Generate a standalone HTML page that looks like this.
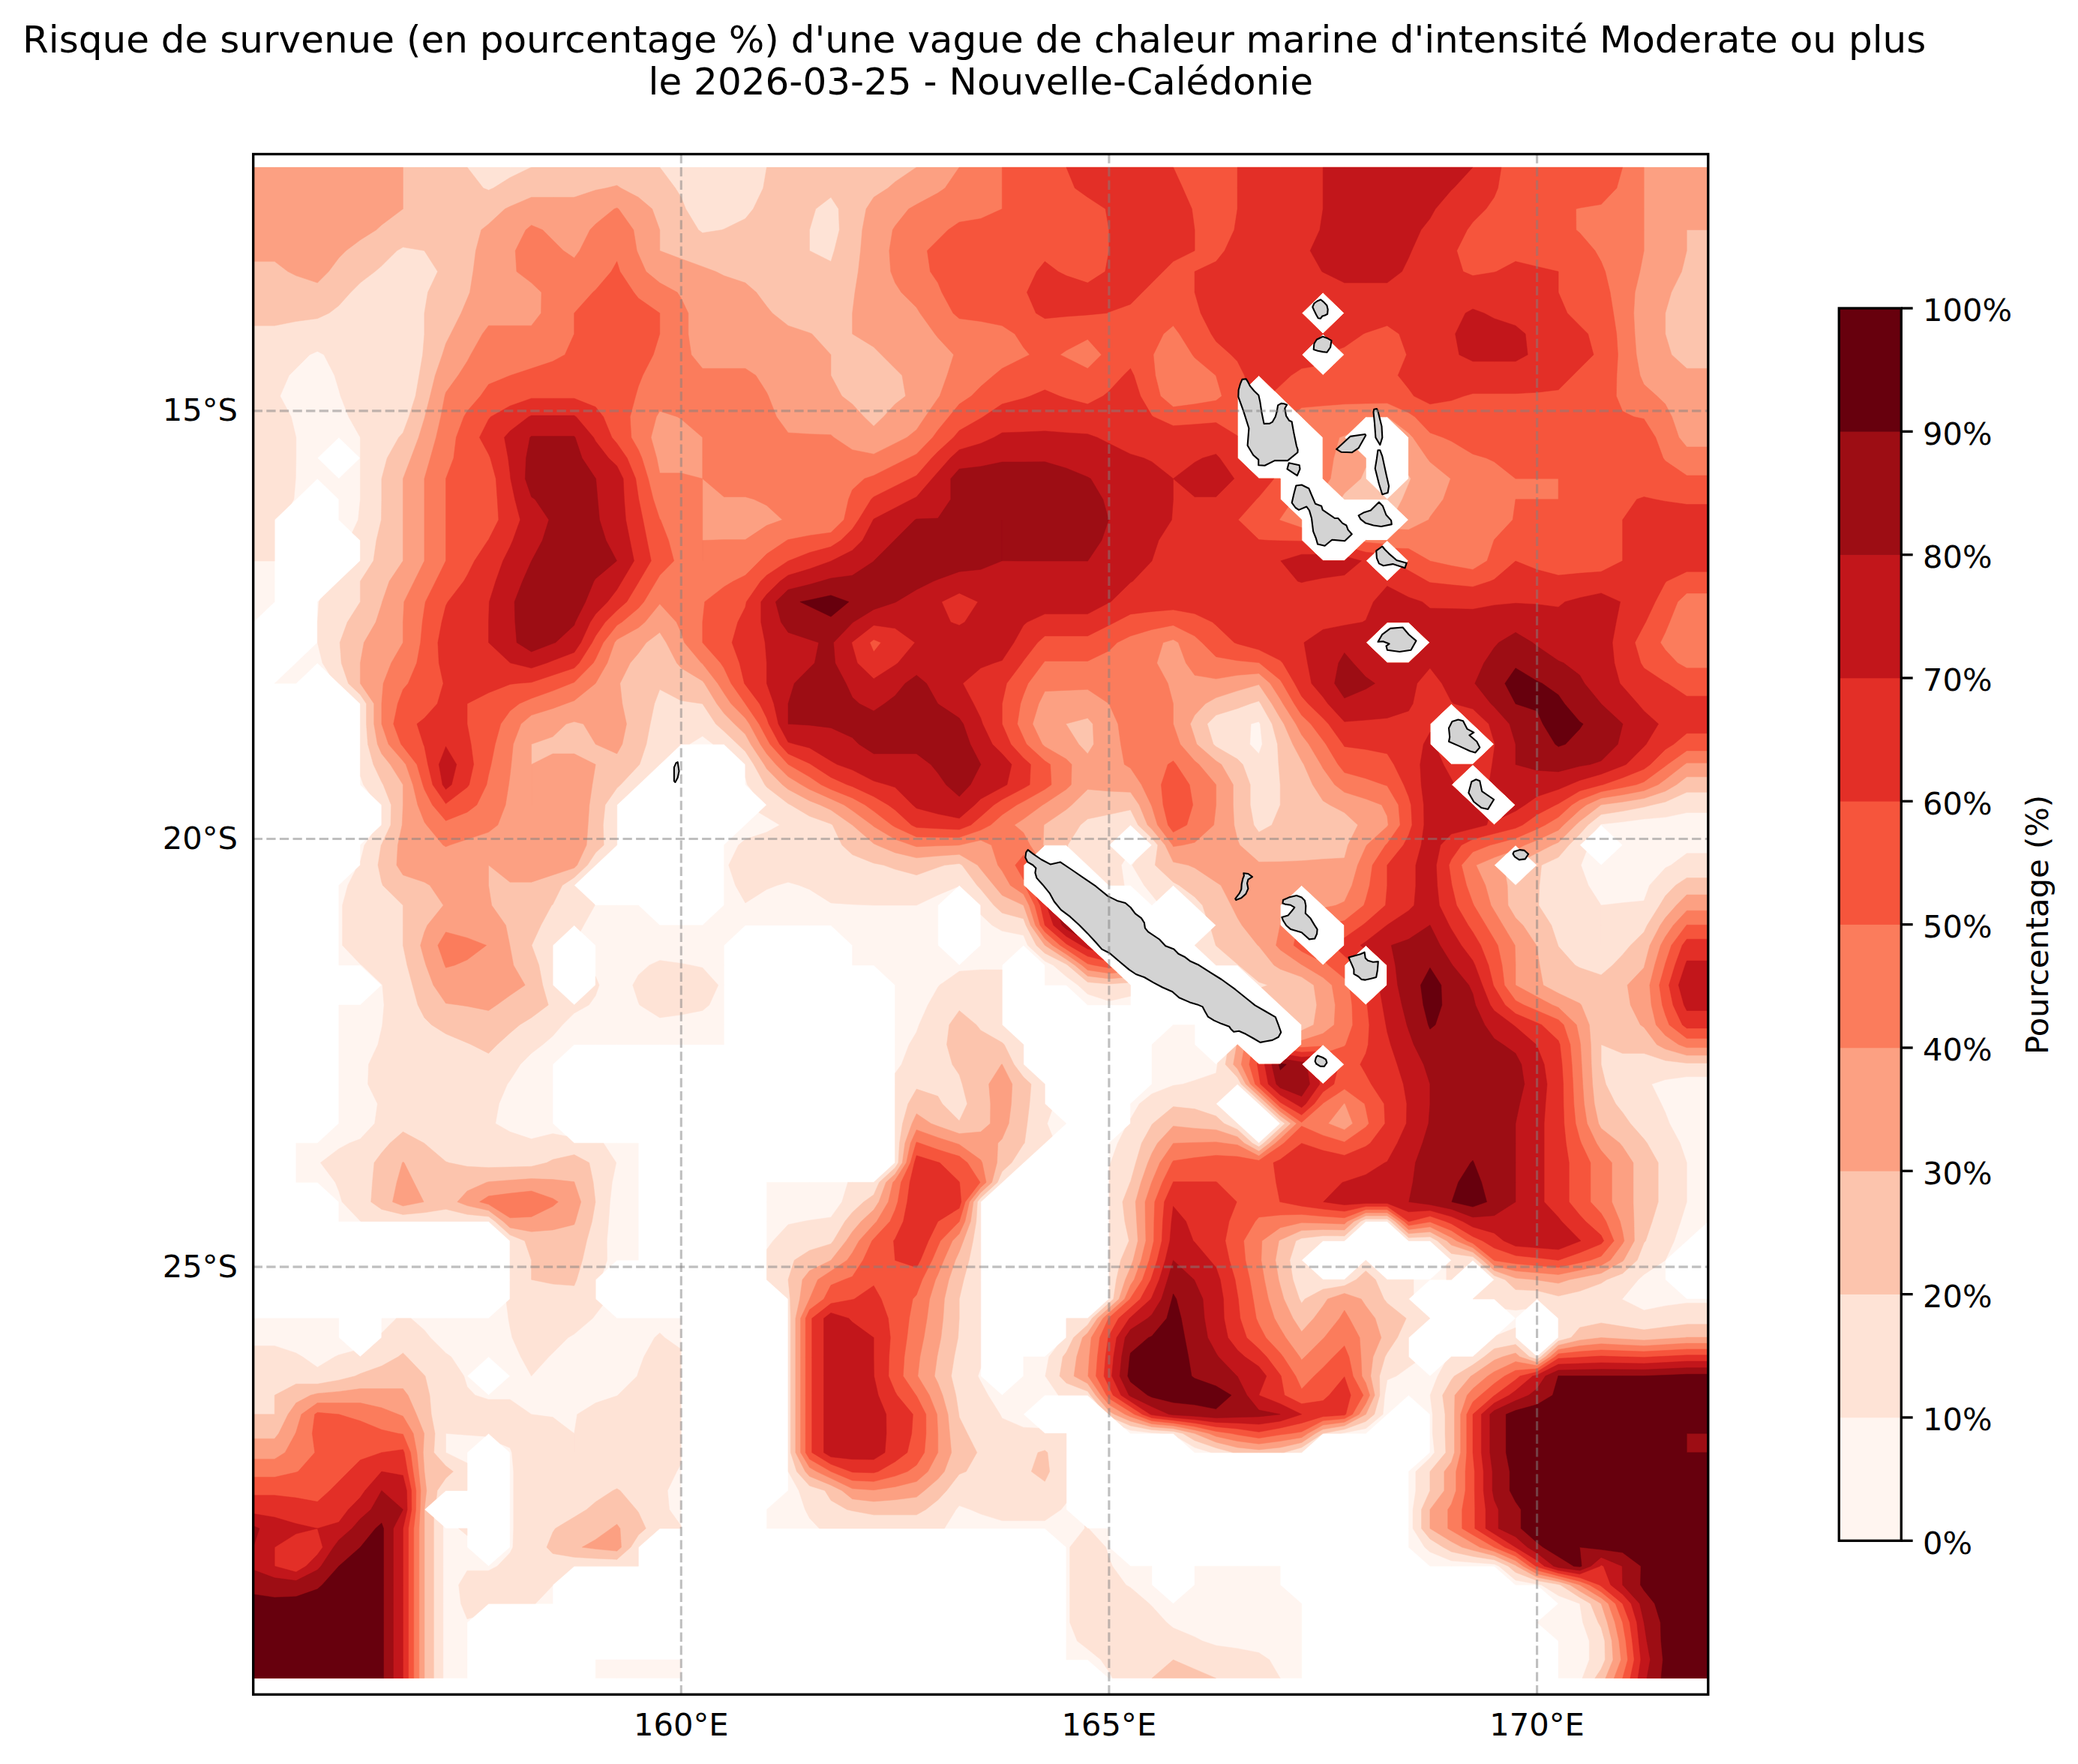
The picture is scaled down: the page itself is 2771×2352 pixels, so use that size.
<!DOCTYPE html>
<html lang="fr"><head><meta charset="utf-8"><title>Risque de vague de chaleur marine - Nouvelle-Calédonie</title>
<style>html,body{margin:0;padding:0;background:#fff}body{width:2771px;height:2352px;overflow:hidden}svg{display:block}text{font-family:"DejaVu Sans","Liberation Sans",sans-serif;fill:#000}</style></head><body>
<svg width="2771" height="2352" viewBox="0 0 2771 2352">
<rect width="2771" height="2352" fill="#fff"/>
<defs><clipPath id="axclip"><rect x="337.7" y="205.5" width="1940.1" height="2053.8"/></clipPath><clipPath id="dataclip"><rect x="337.7" y="222.8" width="1940.1" height="2015.0"/></clipPath></defs>
<g clip-path="url(#axclip)">
<g clip-path="url(#dataclip)">
<path fill="#fff5f0" stroke="#fff5f0" stroke-width="0.5" fill-rule="evenodd" d="M366.2 222.9L394.8 222.9L423.3 222.9L451.8 222.9L480.4 222.9L508.9 222.9L537.4 222.9L565.9 222.9L594.5 222.9L623.0 222.9L651.5 222.9L680.1 222.9L708.6 222.9L737.1 222.9L765.7 222.9L794.2 222.9L822.7 222.9L851.3 222.9L879.8 222.9L908.3 222.9L936.8 222.9L965.4 222.9L993.9 222.9L1022.4 222.9L1051.0 222.9L1079.5 222.9L1108.0 222.9L1136.6 222.9L1165.1 222.9L1193.6 222.9L1222.2 222.9L1250.7 222.9L1279.2 222.9L1307.8 222.9L1336.3 222.9L1364.8 222.9L1393.3 222.9L1421.9 222.9L1450.4 222.9L1478.9 222.9L1507.5 222.9L1536.0 222.9L1564.5 222.9L1593.1 222.9L1621.6 222.9L1650.1 222.9L1678.7 222.9L1707.2 222.9L1735.7 222.9L1764.2 222.9L1792.8 222.9L1821.3 222.9L1849.8 222.9L1878.4 222.9L1906.9 222.9L1935.4 222.9L1964.0 222.9L1992.5 222.9L2021.0 222.9L2049.6 222.9L2078.1 222.9L2106.6 222.9L2135.1 222.9L2163.7 222.9L2192.2 222.9L2220.7 222.9L2249.3 222.9L2277.8 222.9L2277.8 250.8L2277.8 278.6L2277.8 306.5L2277.8 334.3L2277.8 362.1L2277.8 389.8L2277.8 417.5L2277.8 445.2L2277.8 472.9L2277.8 500.5L2277.8 528.1L2277.8 555.7L2277.8 583.2L2277.8 610.8L2277.8 638.2L2277.8 665.7L2277.8 693.1L2277.8 720.5L2277.8 747.8L2277.8 775.1L2277.8 802.4L2277.8 829.6L2277.8 856.8L2277.8 884.0L2277.8 911.2L2277.8 938.2L2277.8 965.3L2277.8 992.3L2277.8 1019.3L2277.8 1046.3L2277.8 1073.2L2277.8 1100.0L2277.8 1126.8L2277.8 1153.6L2277.8 1180.4L2277.8 1207.1L2277.8 1233.7L2277.8 1260.4L2277.8 1286.9L2277.8 1313.5L2277.8 1340.0L2277.8 1366.4L2277.8 1392.8L2277.8 1419.2L2277.8 1445.5L2277.8 1471.8L2277.8 1498.0L2277.8 1524.2L2277.8 1550.3L2277.8 1576.4L2277.8 1602.5L2277.8 1628.5L2249.3 1654.4L2220.7 1680.3L2220.7 1706.2L2249.3 1732.0L2277.8 1732.0L2277.8 1757.8L2277.8 1783.5L2277.8 1809.1L2277.8 1834.8L2277.8 1860.3L2277.8 1885.8L2277.8 1911.3L2277.8 1936.7L2277.8 1962.1L2277.8 1987.4L2277.8 2012.7L2277.8 2037.9L2277.8 2063.0L2277.8 2088.2L2277.8 2113.2L2277.8 2138.2L2277.8 2163.2L2277.8 2188.1L2277.8 2212.9L2277.8 2237.7L2249.3 2237.7L2220.7 2237.7L2192.2 2237.7L2163.7 2237.7L2135.1 2237.7L2106.6 2237.7L2078.1 2237.7L2078.1 2212.9L2078.1 2188.1L2049.6 2163.2L2078.1 2138.2L2049.6 2113.2L2021.0 2113.2L1992.5 2088.2L1964.0 2088.2L1935.4 2088.2L1906.9 2088.2L1878.4 2063.0L1878.4 2037.9L1878.4 2012.7L1878.4 1987.4L1878.4 1962.1L1906.9 1936.7L1906.9 1911.3L1906.9 1885.8L1878.4 1860.3L1849.8 1885.8L1821.3 1911.3L1792.8 1911.3L1764.2 1911.3L1735.7 1936.7L1707.2 1936.7L1678.7 1936.7L1650.1 1936.7L1621.6 1936.7L1593.1 1936.7L1564.5 1911.3L1536.0 1911.3L1507.5 1911.3L1478.9 1885.8L1450.4 1860.3L1421.9 1860.3L1393.3 1860.3L1364.8 1885.8L1393.3 1911.3L1421.9 1911.3L1421.9 1936.7L1421.9 1962.1L1421.9 1987.4L1421.9 2012.7L1450.4 2037.9L1478.9 2037.9L1478.9 2063.0L1507.5 2088.2L1536.0 2088.2L1536.0 2113.2L1564.5 2138.2L1593.1 2113.2L1593.1 2088.2L1621.6 2088.2L1650.1 2088.2L1678.7 2088.2L1707.2 2088.2L1707.2 2113.2L1735.7 2138.2L1735.7 2163.2L1735.7 2188.1L1735.7 2212.9L1735.7 2237.7L1707.2 2237.7L1678.7 2237.7L1650.1 2237.7L1621.6 2237.7L1593.1 2237.7L1564.5 2237.7L1536.0 2237.7L1507.5 2237.7L1478.9 2237.7L1450.4 2212.9L1421.9 2212.9L1421.9 2188.1L1421.9 2163.2L1421.9 2138.2L1421.9 2113.2L1421.9 2088.2L1421.9 2063.0L1393.3 2037.9L1364.8 2037.9L1336.3 2037.9L1307.8 2037.9L1279.2 2037.9L1250.7 2037.9L1222.2 2037.9L1193.6 2037.9L1165.1 2037.9L1136.6 2037.9L1108.0 2037.9L1079.5 2037.9L1051.0 2037.9L1022.4 2037.9L1022.4 2012.7L1051.0 1987.4L1051.0 1962.1L1051.0 1936.7L1051.0 1911.3L1051.0 1885.8L1051.0 1860.3L1051.0 1834.8L1051.0 1809.1L1051.0 1783.5L1051.0 1757.8L1051.0 1732.0L1022.4 1706.2L1022.4 1680.3L1022.4 1654.4L1022.4 1628.5L1022.4 1602.5L1022.4 1576.4L1051.0 1576.4L1079.5 1576.4L1108.0 1576.4L1136.6 1576.4L1165.1 1576.4L1193.6 1550.3L1193.6 1524.2L1193.6 1498.0L1193.6 1471.8L1193.6 1445.5L1193.6 1419.2L1193.6 1392.8L1193.6 1366.4L1193.6 1340.0L1193.6 1313.5L1165.1 1286.9L1136.6 1286.9L1136.6 1260.4L1108.0 1233.7L1079.5 1233.7L1051.0 1233.7L1022.4 1233.7L993.9 1233.7L965.4 1260.4L965.4 1286.9L965.4 1313.5L965.4 1340.0L965.4 1366.4L965.4 1392.8L936.8 1392.8L908.3 1392.8L879.8 1392.8L851.3 1392.8L822.7 1392.8L794.2 1392.8L765.7 1392.8L737.1 1419.2L737.1 1445.5L737.1 1471.8L737.1 1498.0L765.7 1524.2L794.2 1524.2L822.7 1524.2L851.3 1524.2L851.3 1550.3L851.3 1576.4L851.3 1602.5L851.3 1628.5L851.3 1654.4L851.3 1680.3L822.7 1680.3L794.2 1706.2L794.2 1732.0L822.7 1757.8L851.3 1757.8L879.8 1757.8L908.3 1757.8L908.3 1783.5L908.3 1809.1L908.3 1834.8L908.3 1860.3L908.3 1885.8L908.3 1911.3L908.3 1936.7L908.3 1962.1L908.3 1987.4L908.3 2012.7L908.3 2037.9L879.8 2037.9L851.3 2063.0L851.3 2088.2L822.7 2088.2L794.2 2088.2L765.7 2088.2L737.1 2113.2L737.1 2138.2L708.6 2138.2L680.1 2138.2L651.5 2138.2L623.0 2163.2L623.0 2188.1L623.0 2212.9L623.0 2237.7L594.5 2237.7L565.9 2237.7L537.4 2237.7L508.9 2237.7L480.4 2237.7L451.8 2237.7L423.3 2237.7L394.8 2237.7L366.2 2237.7L337.7 2237.7L337.7 2212.9L337.7 2188.1L337.7 2163.2L337.7 2138.2L337.7 2113.2L337.7 2088.2L337.7 2063.0L337.7 2037.9L337.7 2012.7L337.7 1987.4L337.7 1962.1L337.7 1936.7L337.7 1911.3L337.7 1885.8L337.7 1860.3L337.7 1834.8L337.7 1809.1L337.7 1783.5L337.7 1757.8L366.2 1757.8L394.8 1757.8L423.3 1757.8L451.8 1757.8L451.8 1783.5L480.4 1809.1L508.9 1783.5L508.9 1757.8L537.4 1757.8L565.9 1757.8L594.5 1757.8L623.0 1757.8L651.5 1757.8L680.1 1732.0L680.1 1706.2L680.1 1680.3L680.1 1654.4L651.5 1628.5L623.0 1628.5L594.5 1628.5L565.9 1628.5L537.4 1628.5L508.9 1628.5L480.4 1628.5L451.8 1628.5L451.8 1602.5L423.3 1576.4L394.8 1576.4L394.8 1550.3L394.8 1524.2L423.3 1524.2L451.8 1498.0L451.8 1471.8L451.8 1445.5L451.8 1419.2L451.8 1392.8L451.8 1366.4L451.8 1340.0L480.4 1340.0L508.9 1313.5L480.4 1286.9L451.8 1286.9L451.8 1260.4L451.8 1233.7L451.8 1207.1L451.8 1180.4L480.4 1153.6L480.4 1126.8L508.9 1100.0L508.9 1073.2L480.4 1046.3L480.4 1019.3L480.4 992.3L480.4 965.3L480.4 938.2L451.8 911.2L423.3 884.0L394.8 911.2L366.2 911.2L394.8 884.0L423.3 856.8L423.3 829.6L423.3 802.4L451.8 775.1L480.4 747.8L480.4 720.5L451.8 693.1L451.8 665.7L423.3 638.2L394.8 665.7L366.2 693.1L366.2 720.5L366.2 747.8L366.2 775.1L366.2 802.4L337.7 829.6L337.7 802.4L337.7 775.1L337.7 747.8L337.7 720.5L337.7 693.1L337.7 665.7L337.7 638.2L337.7 610.8L337.7 583.2L337.7 555.7L337.7 528.1L337.7 500.5L337.7 472.9L337.7 445.2L337.7 417.5L337.7 389.8L337.7 362.1L337.7 334.3L337.7 306.5L337.7 278.6L337.7 250.8L337.7 222.9ZM1735.7 417.5L1764.2 445.2L1735.7 472.9L1764.2 500.5L1792.8 472.9L1764.2 445.2L1792.8 417.5L1764.2 389.8ZM1650.1 528.1L1650.1 555.7L1650.1 583.2L1650.1 610.8L1678.7 638.2L1707.2 638.2L1707.2 665.7L1735.7 693.1L1735.7 720.5L1764.2 747.8L1792.8 747.8L1821.3 720.5L1849.8 720.5L1821.3 747.8L1849.8 775.1L1878.4 747.8L1849.8 720.5L1878.4 693.1L1849.8 665.7L1878.4 638.2L1878.4 610.8L1878.4 583.2L1849.8 555.7L1821.3 555.7L1792.8 583.2L1821.3 610.8L1821.3 638.2L1849.8 665.7L1821.3 665.7L1792.8 665.7L1764.2 638.2L1764.2 610.8L1764.2 583.2L1735.7 555.7L1707.2 528.1L1678.7 500.5ZM423.3 610.8L451.8 638.2L480.4 610.8L451.8 583.2ZM1849.8 829.6L1821.3 856.8L1849.8 884.0L1878.4 884.0L1906.9 856.8L1878.4 829.6ZM1906.9 965.3L1906.9 992.3L1935.4 1019.3L1964.0 1019.3L1935.4 1046.3L1964.0 1073.2L1992.5 1100.0L2021.0 1073.2L1992.5 1046.3L1964.0 1019.3L1992.5 992.3L1964.0 965.3L1935.4 938.2ZM908.3 992.3L879.8 1019.3L851.3 1046.3L822.7 1073.2L822.7 1100.0L822.7 1126.8L794.2 1153.6L765.7 1180.4L794.2 1207.1L822.7 1207.1L851.3 1207.1L879.8 1233.7L908.3 1233.7L936.8 1233.7L965.4 1207.1L965.4 1180.4L965.4 1153.6L965.4 1126.8L993.9 1100.0L1022.4 1073.2L993.9 1046.3L993.9 1019.3L965.4 992.3L936.8 992.3ZM1393.3 1126.8L1364.8 1153.6L1364.8 1180.4L1393.3 1207.1L1421.9 1233.7L1450.4 1260.4L1478.9 1286.9L1507.5 1313.5L1507.5 1340.0L1478.9 1340.0L1450.4 1340.0L1421.9 1313.5L1393.3 1313.5L1393.3 1286.9L1364.8 1260.4L1336.3 1286.9L1336.3 1313.5L1336.3 1340.0L1336.3 1366.4L1364.8 1392.8L1364.8 1419.2L1393.3 1445.5L1393.3 1471.8L1421.9 1498.0L1393.3 1524.2L1364.8 1550.3L1336.3 1576.4L1307.8 1602.5L1307.8 1628.5L1307.8 1654.4L1307.8 1680.3L1307.8 1706.2L1307.8 1732.0L1307.8 1757.8L1307.8 1783.5L1307.8 1809.1L1307.8 1834.8L1336.3 1860.3L1364.8 1834.8L1364.8 1809.1L1393.3 1809.1L1421.9 1783.5L1421.9 1757.8L1450.4 1757.8L1478.9 1732.0L1478.9 1706.2L1478.9 1680.3L1478.9 1654.4L1478.9 1628.5L1478.9 1602.5L1478.9 1576.4L1478.9 1550.3L1478.9 1524.2L1507.5 1498.0L1507.5 1471.8L1536.0 1445.5L1536.0 1419.2L1536.0 1392.8L1564.5 1366.4L1593.1 1366.4L1593.1 1392.8L1621.6 1419.2L1650.1 1392.8L1678.7 1419.2L1707.2 1419.2L1735.7 1392.8L1735.7 1366.4L1707.2 1340.0L1678.7 1313.5L1650.1 1286.9L1621.6 1286.9L1593.1 1260.4L1621.6 1233.7L1593.1 1207.1L1564.5 1180.4L1536.0 1207.1L1507.5 1180.4L1478.9 1180.4L1450.4 1153.6L1421.9 1126.8ZM1478.9 1126.8L1507.5 1153.6L1536.0 1126.8L1507.5 1100.0ZM2106.6 1126.8L2135.1 1153.6L2163.7 1126.8L2135.1 1100.0ZM1992.5 1153.6L2021.0 1180.4L2049.6 1153.6L2021.0 1126.8ZM1250.7 1207.1L1250.7 1233.7L1250.7 1260.4L1279.2 1286.9L1307.8 1260.4L1307.8 1233.7L1307.8 1207.1L1279.2 1180.4ZM1707.2 1207.1L1707.2 1233.7L1735.7 1260.4L1764.2 1286.9L1792.8 1260.4L1792.8 1233.7L1764.2 1207.1L1735.7 1180.4ZM737.1 1260.4L737.1 1286.9L737.1 1313.5L765.7 1340.0L794.2 1313.5L794.2 1286.9L794.2 1260.4L765.7 1233.7ZM1792.8 1286.9L1792.8 1313.5L1821.3 1340.0L1849.8 1313.5L1849.8 1286.9L1821.3 1260.4ZM1735.7 1419.2L1764.2 1445.5L1792.8 1419.2L1764.2 1392.8ZM1621.6 1471.8L1650.1 1498.0L1678.7 1524.2L1707.2 1498.0L1678.7 1471.8L1650.1 1445.5ZM1821.3 1628.5L1792.8 1654.4L1764.2 1654.4L1735.7 1680.3L1764.2 1706.2L1792.8 1706.2L1821.3 1680.3L1849.8 1706.2L1878.4 1706.2L1906.9 1706.2L1878.4 1732.0L1906.9 1757.8L1878.4 1783.5L1878.4 1809.1L1906.9 1834.8L1935.4 1809.1L1964.0 1809.1L1992.5 1783.5L2021.0 1757.8L2021.0 1783.5L2049.6 1809.1L2078.1 1783.5L2078.1 1757.8L2049.6 1732.0L2021.0 1757.8L1992.5 1732.0L1964.0 1732.0L1992.5 1706.2L1964.0 1680.3L1935.4 1706.2L1906.9 1706.2L1935.4 1680.3L1906.9 1654.4L1878.4 1654.4L1849.8 1628.5ZM623.0 1834.8L651.5 1860.3L680.1 1834.8L651.5 1809.1ZM623.0 1936.7L623.0 1962.1L623.0 1987.4L594.5 1987.4L565.9 2012.7L594.5 2037.9L623.0 2037.9L623.0 2063.0L651.5 2088.2L680.1 2063.0L680.1 2037.9L680.1 2012.7L680.1 1987.4L680.1 1962.1L680.1 1936.7L651.5 1911.3ZM822.7 2212.9L851.3 2212.9L879.8 2212.9L908.3 2212.9L908.3 2237.7L879.8 2237.7L851.3 2237.7L822.7 2237.7L794.2 2237.7L794.2 2212.9Z"/>
<path fill="#fee3d6" stroke="#fee3d6" stroke-width="0.5" fill-rule="evenodd" d="M366.2 222.9L394.8 222.9L423.3 222.9L451.8 222.9L480.4 222.9L508.9 222.9L537.4 222.9L565.9 222.9L594.5 222.9L623.0 222.9L651.5 222.9L680.1 222.9L708.6 222.9L737.1 222.9L765.7 222.9L794.2 222.9L822.7 222.9L851.3 222.9L879.8 222.9L908.3 222.9L936.8 222.9L965.4 222.9L993.9 222.9L1022.4 222.9L1051.0 222.9L1079.5 222.9L1108.0 222.9L1136.6 222.9L1165.1 222.9L1193.6 222.9L1222.2 222.9L1250.7 222.9L1279.2 222.9L1307.8 222.9L1336.3 222.9L1364.8 222.9L1393.3 222.9L1421.9 222.9L1450.4 222.9L1478.9 222.9L1507.5 222.9L1536.0 222.9L1564.5 222.9L1593.1 222.9L1621.6 222.9L1650.1 222.9L1678.7 222.9L1707.2 222.9L1735.7 222.9L1764.2 222.9L1792.8 222.9L1821.3 222.9L1849.8 222.9L1878.4 222.9L1906.9 222.9L1935.4 222.9L1964.0 222.9L1992.5 222.9L2021.0 222.9L2049.6 222.9L2078.1 222.9L2106.6 222.9L2135.1 222.9L2163.7 222.9L2192.2 222.9L2220.7 222.9L2249.3 222.9L2277.8 222.9L2277.8 250.8L2277.8 278.6L2277.8 306.5L2277.8 334.3L2277.8 362.1L2277.8 389.8L2277.8 417.5L2277.8 445.2L2277.8 472.9L2277.8 500.5L2277.8 528.1L2277.8 555.7L2277.8 583.2L2277.8 610.8L2277.8 638.2L2277.8 665.7L2277.8 693.1L2277.8 720.5L2277.8 747.8L2277.8 775.1L2277.8 802.4L2277.8 829.6L2277.8 856.8L2277.8 884.0L2277.8 911.2L2277.8 938.2L2277.8 965.3L2277.8 992.3L2277.8 1019.3L2277.8 1046.3L2277.8 1073.2L2277.8 1083.5L2249.3 1083.5L2220.7 1089.6L2192.2 1092.0L2163.7 1095.8L2135.1 1098.9L2133.8 1100.0L2126.8 1107.9L2106.6 1126.8L2115.4 1135.1L2108.2 1153.6L2118.1 1180.4L2135.1 1207.1L2135.1 1233.7L2135.1 1260.4L2135.1 1260.4L2135.1 1260.4L2135.1 1233.7L2135.1 1207.1L2163.7 1203.7L2192.2 1201.1L2199.6 1180.4L2220.7 1157.2L2228.2 1153.6L2249.3 1137.8L2277.8 1137.8L2277.8 1153.6L2277.8 1180.4L2277.8 1207.1L2277.8 1233.7L2277.8 1260.4L2277.8 1286.9L2277.8 1313.5L2277.8 1340.0L2277.8 1366.4L2277.8 1392.8L2277.8 1419.2L2277.8 1435.6L2249.3 1435.6L2220.7 1439.5L2202.4 1445.5L2215.3 1471.8L2220.7 1483.2L2226.3 1498.0L2240.4 1524.2L2249.3 1550.3L2249.3 1576.4L2249.3 1602.5L2241.2 1628.5L2232.6 1654.4L2220.8 1680.3L2220.7 1680.3L2220.7 1680.4L2192.2 1699.4L2184.7 1706.2L2163.7 1731.4L2162.3 1732.0L2163.7 1732.7L2192.2 1747.0L2220.7 1741.2L2249.3 1737.4L2277.8 1737.4L2277.8 1757.8L2277.8 1783.5L2277.8 1809.1L2277.8 1834.8L2277.8 1860.3L2277.8 1885.8L2277.8 1911.3L2277.8 1936.7L2277.8 1962.1L2277.8 1987.4L2277.8 2012.7L2277.8 2037.9L2277.8 2063.0L2277.8 2088.2L2277.8 2113.2L2277.8 2138.2L2277.8 2163.2L2277.8 2188.1L2277.8 2212.9L2277.8 2237.7L2249.3 2237.7L2220.7 2237.7L2192.2 2237.7L2163.7 2237.7L2135.1 2237.7L2110.0 2237.7L2119.3 2212.9L2119.3 2188.1L2110.7 2163.2L2106.6 2138.2L2106.6 2138.2L2078.1 2127.5L2055.3 2113.2L2049.6 2112.3L2021.0 2106.9L1998.7 2088.2L1992.5 2085.4L1964.0 2083.3L1935.4 2081.0L1906.9 2069.3L1899.8 2063.0L1884.1 2037.9L1884.1 2012.7L1887.9 1987.4L1887.9 1962.1L1906.9 1944.0L1912.9 1936.7L1910.3 1911.3L1910.3 1885.8L1907.1 1860.3L1917.1 1834.8L1926.8 1816.9L1935.4 1809.1L1964.0 1809.1L1992.5 1783.5L1995.8 1780.5L2021.0 1770.3L2021.0 1783.5L2049.6 1809.1L2078.1 1783.5L2078.1 1757.8L2049.6 1732.0L2034.9 1745.2L2021.0 1747.0L2007.1 1745.2L1992.5 1732.0L1964.0 1732.0L1992.5 1706.2L1964.0 1680.3L1935.4 1706.2L1928.8 1706.2L1928.8 1686.4L1935.4 1680.3L1906.9 1654.4L1878.4 1654.4L1849.8 1628.5L1821.3 1628.5L1792.8 1654.4L1764.2 1654.4L1735.7 1680.3L1764.2 1706.2L1792.8 1706.2L1821.3 1680.3L1849.8 1706.2L1878.4 1706.2L1885.0 1706.2L1885.0 1726.0L1878.4 1732.0L1906.9 1757.8L1878.4 1783.5L1878.4 1809.1L1887.0 1816.9L1878.4 1823.1L1862.1 1834.8L1849.8 1839.9L1846.5 1860.3L1844.1 1885.8L1821.3 1904.7L1792.8 1910.4L1788.0 1911.3L1764.2 1911.3L1735.7 1936.7L1735.7 1936.7L1735.7 1936.7L1707.2 1936.7L1678.7 1936.7L1650.1 1936.7L1621.6 1936.7L1615.2 1936.7L1593.1 1930.1L1570.9 1917.0L1564.5 1911.3L1550.3 1911.3L1536.0 1910.5L1507.5 1907.1L1498.4 1903.2L1478.9 1885.8L1450.4 1860.3L1421.9 1860.3L1411.3 1860.3L1393.9 1834.8L1398.7 1809.1L1410.2 1794.0L1421.9 1783.5L1421.9 1757.8L1450.4 1757.8L1478.9 1732.0L1478.9 1706.2L1478.9 1680.3L1478.9 1654.4L1478.9 1628.5L1478.9 1602.5L1478.9 1576.4L1478.9 1555.1L1481.1 1550.3L1490.4 1524.2L1500.1 1504.7L1507.5 1498.0L1507.5 1491.8L1519.3 1471.8L1536.0 1458.4L1564.5 1447.3L1577.2 1445.5L1593.1 1440.5L1621.6 1430.7L1623.4 1419.2L1623.7 1417.2L1650.1 1392.8L1678.7 1419.2L1707.2 1419.2L1735.7 1392.8L1735.7 1366.4L1707.2 1340.0L1678.7 1313.5L1650.1 1286.9L1621.6 1286.9L1593.1 1260.4L1621.6 1233.7L1593.1 1207.1L1564.5 1180.4L1542.3 1201.2L1536.0 1193.3L1525.7 1180.4L1509.7 1153.6L1515.1 1146.4L1536.0 1126.8L1507.5 1100.0L1478.9 1126.8L1499.8 1146.4L1495.3 1153.6L1499.2 1180.4L1478.9 1180.4L1450.4 1153.6L1421.9 1126.8L1393.3 1126.8L1364.8 1153.6L1364.8 1180.4L1393.3 1207.1L1421.9 1233.7L1450.4 1260.4L1478.9 1286.9L1507.5 1313.5L1507.5 1328.2L1478.9 1334.7L1450.4 1325.5L1437.4 1313.5L1421.9 1302.1L1404.3 1286.9L1393.3 1281.6L1370.5 1260.4L1364.8 1247.1L1336.3 1241.3L1323.0 1233.7L1307.8 1219.4L1307.8 1207.1L1279.2 1180.4L1277.3 1182.2L1250.7 1193.4L1222.2 1207.1L1193.6 1207.1L1165.1 1207.1L1136.6 1205.9L1108.0 1203.9L1079.5 1185.9L1065.6 1180.4L1051.0 1176.2L1036.4 1180.4L1022.4 1185.9L993.9 1203.9L980.6 1180.4L971.7 1153.6L984.7 1126.8L993.9 1119.1L1022.4 1109.6L1039.7 1100.0L1022.4 1089.6L1011.8 1083.2L1022.4 1073.2L1004.1 1055.9L996.5 1046.3L993.9 1036.6L993.9 1019.3L965.4 992.3L950.9 992.3L936.8 981.5L919.4 992.3L908.3 992.3L879.8 1019.3L851.3 1046.3L822.7 1073.2L822.7 1100.0L822.7 1126.8L794.2 1153.6L765.7 1180.4L792.3 1205.3L793.3 1207.1L778.4 1233.7L774.1 1241.7L765.7 1233.7L737.1 1260.4L737.1 1286.9L737.1 1313.5L765.7 1340.0L794.2 1313.5L794.2 1301.8L799.1 1313.5L794.2 1327.6L785.3 1340.0L765.7 1350.9L750.0 1366.4L737.1 1381.4L723.9 1392.8L708.6 1404.5L693.9 1419.2L680.1 1440.7L676.6 1445.5L665.4 1471.8L660.7 1498.0L680.1 1509.1L708.6 1518.6L737.1 1511.5L755.8 1515.1L765.7 1524.2L794.2 1524.2L804.8 1524.2L821.7 1550.3L816.3 1576.4L813.4 1602.5L811.6 1628.5L809.3 1654.4L809.6 1680.3L803.7 1697.6L794.2 1706.2L794.2 1732.0L803.6 1740.5L794.2 1752.8L790.4 1757.8L765.7 1778.8L757.7 1783.5L737.1 1804.0L732.0 1809.1L708.6 1834.8L694.4 1809.1L683.0 1783.5L680.1 1770.3L677.9 1757.8L675.2 1736.4L680.1 1732.0L680.1 1706.2L680.1 1680.3L680.1 1654.4L651.5 1628.5L623.0 1628.5L594.5 1628.5L565.9 1628.5L537.4 1628.5L508.9 1628.5L481.6 1628.5L480.4 1628.0L456.1 1602.5L451.8 1588.0L447.1 1576.4L427.4 1550.3L451.8 1531.7L465.7 1524.2L480.4 1518.6L499.6 1498.0L503.4 1471.8L490.6 1445.5L491.5 1419.2L503.9 1392.8L508.9 1371.3L509.8 1366.4L512.1 1340.0L509.9 1313.5L508.9 1312.2L482.4 1286.9L480.4 1285.5L456.6 1260.4L456.6 1233.7L456.6 1207.1L463.8 1180.4L474.6 1159.0L480.4 1153.6L480.4 1149.1L486.0 1126.8L496.3 1111.8L508.9 1100.0L508.9 1073.2L492.9 1058.1L484.5 1046.3L480.4 1034.4L480.4 1019.3L480.4 992.3L480.4 965.3L480.4 938.2L451.8 911.2L439.6 899.5L430.0 884.0L423.3 856.8L423.3 829.6L425.2 802.4L427.5 798.4L451.8 775.1L480.4 747.8L480.4 720.5L469.6 710.2L477.6 693.1L480.4 665.7L480.4 665.7L480.4 638.2L480.4 610.8L480.4 583.2L480.4 583.2L464.9 555.7L454.1 528.1L451.8 519.8L446.0 500.5L431.9 472.9L423.3 468.4L413.1 472.9L394.8 491.3L385.5 500.5L373.5 528.1L388.3 555.7L394.8 583.2L394.8 610.8L394.3 638.2L391.9 665.7L388.6 671.6L366.2 693.1L366.2 720.5L366.2 747.8L366.2 748.1L337.7 748.1L337.7 747.8L337.7 720.5L337.7 693.1L337.7 665.7L337.7 638.2L337.7 610.8L337.7 583.2L337.7 555.7L337.7 528.1L337.7 500.5L337.7 472.9L337.7 445.2L337.7 417.5L337.7 389.8L337.7 362.1L337.7 334.3L337.7 306.5L337.7 278.6L337.7 250.8L337.7 222.9ZM1735.7 417.5L1764.2 445.2L1735.7 472.9L1764.2 500.5L1792.8 472.9L1764.2 445.2L1792.8 417.5L1764.2 389.8ZM537.4 472.9L537.4 500.5L537.4 500.5L537.4 500.5L537.4 472.9L537.4 472.9ZM1650.1 528.1L1650.1 555.7L1650.1 583.2L1650.1 610.8L1678.7 638.2L1707.2 638.2L1707.2 665.7L1735.7 693.1L1735.7 720.5L1764.2 747.8L1792.8 747.8L1821.3 720.5L1849.8 720.5L1821.3 747.8L1849.8 775.1L1878.4 747.8L1849.8 720.5L1878.4 693.1L1849.8 665.7L1878.4 638.2L1878.4 610.8L1878.4 583.2L1849.8 555.7L1821.3 555.7L1792.8 583.2L1821.3 610.8L1821.3 638.2L1849.8 665.7L1821.3 665.7L1792.8 665.7L1764.2 638.2L1764.2 610.8L1764.2 583.2L1735.7 555.7L1707.2 528.1L1678.7 500.5ZM1849.8 829.6L1821.3 856.8L1849.8 884.0L1878.4 884.0L1906.9 856.8L1878.4 829.6ZM1668.1 965.3L1666.7 992.3L1678.7 1005.0L1683.2 992.3L1680.4 965.3L1678.7 962.2ZM1906.9 965.3L1906.9 992.3L1935.4 1019.3L1964.0 1019.3L1935.4 1046.3L1964.0 1073.2L1992.5 1100.0L2021.0 1073.2L1992.5 1046.3L1964.0 1019.3L1992.5 992.3L1964.0 965.3L1935.4 938.2ZM1992.5 1153.6L2021.0 1180.4L2049.6 1153.6L2021.0 1126.8ZM1707.2 1207.1L1707.2 1233.7L1735.7 1260.4L1764.2 1286.9L1792.8 1260.4L1792.8 1233.7L1764.2 1207.1L1735.7 1180.4ZM1792.8 1286.9L1792.8 1313.5L1821.3 1340.0L1849.8 1313.5L1849.8 1286.9L1821.3 1260.4ZM1735.7 1419.2L1764.2 1445.5L1792.8 1419.2L1764.2 1392.8ZM594.5 1445.5L594.5 1471.8L594.5 1471.8L594.5 1471.8L594.5 1445.5L594.5 1445.5ZM1621.6 1471.8L1650.1 1498.0L1678.7 1524.2L1707.2 1498.0L1678.7 1471.8L1650.1 1445.5ZM879.8 1280.5L908.3 1284.5L921.4 1286.9L936.8 1290.3L957.8 1313.5L945.8 1340.0L936.8 1347.4L908.3 1353.1L879.8 1356.9L852.9 1340.0L851.3 1336.5L843.7 1313.5L851.3 1299.9L865.9 1286.9ZM1279.2 1295.1L1307.8 1292.9L1336.3 1293.0L1336.3 1313.5L1336.3 1340.0L1336.3 1366.4L1364.8 1392.8L1364.8 1419.2L1393.3 1445.5L1393.3 1471.8L1402.7 1480.4L1396.5 1498.0L1403.4 1515.0L1393.3 1524.2L1364.8 1550.3L1336.3 1576.4L1307.8 1602.5L1307.8 1628.5L1307.8 1654.4L1307.8 1680.3L1307.8 1706.2L1307.8 1732.0L1307.8 1757.8L1307.8 1783.5L1307.8 1809.1L1307.8 1823.9L1304.1 1834.8L1307.8 1842.1L1317.7 1860.3L1333.7 1885.8L1336.3 1890.9L1364.8 1903.2L1385.4 1904.2L1393.3 1911.3L1421.9 1911.3L1421.9 1936.7L1421.9 1962.1L1421.9 1987.4L1421.9 2003.9L1415.0 2012.7L1393.3 2027.6L1364.8 2027.6L1336.3 2027.6L1307.8 2018.8L1293.9 2012.7L1279.2 2007.6L1274.9 2012.7L1259.4 2037.9L1250.7 2037.9L1222.2 2037.9L1193.6 2037.9L1165.1 2037.9L1136.6 2037.9L1108.0 2037.9L1092.5 2037.9L1079.5 2024.2L1073.5 2012.7L1065.2 1987.4L1051.0 1962.1L1051.0 1962.1L1051.0 1936.7L1051.0 1911.3L1051.0 1885.8L1051.0 1860.3L1051.0 1834.8L1051.0 1809.1L1051.0 1783.5L1051.0 1757.8L1051.0 1732.0L1022.4 1706.2L1022.4 1680.3L1022.4 1666.0L1030.9 1654.4L1051.0 1632.8L1071.3 1628.5L1079.5 1627.0L1108.0 1623.0L1122.7 1602.5L1130.6 1576.4L1136.6 1576.4L1165.1 1576.4L1193.6 1550.3L1193.6 1524.2L1193.6 1498.0L1193.6 1471.8L1193.6 1445.5L1193.6 1430.9L1202.1 1419.2L1212.2 1392.8L1222.2 1376.0L1225.5 1366.4L1237.3 1340.0L1250.7 1316.3L1252.9 1313.5ZM537.4 1757.8L548.0 1757.8L565.9 1773.4L573.9 1783.5L594.5 1804.0L601.7 1809.1L618.7 1834.8L623.0 1848.9L633.7 1860.3L651.5 1865.9L680.1 1865.9L708.6 1885.8L708.6 1885.8L737.1 1889.6L765.7 1911.3L765.7 1936.7L765.7 1936.7L765.7 1936.7L765.7 1911.3L769.7 1885.8L794.2 1870.6L822.7 1861.1L823.8 1860.3L849.6 1834.8L851.3 1829.1L858.6 1809.1L872.8 1783.5L879.8 1777.2L886.4 1783.5L908.3 1799.0L908.3 1809.1L908.3 1834.8L908.3 1860.3L908.3 1885.8L908.3 1911.3L908.3 1936.7L908.3 1951.5L902.5 1962.1L890.2 1987.4L892.6 2012.7L908.3 2034.5L908.3 2037.9L879.8 2037.9L851.3 2063.0L851.3 2088.2L822.7 2088.2L794.2 2088.2L765.7 2088.2L737.1 2113.2L737.1 2114.1L714.1 2138.2L708.6 2138.2L680.1 2138.2L651.5 2138.2L630.7 2156.5L623.0 2158.7L614.6 2138.2L611.6 2113.2L623.0 2094.2L651.5 2094.2L663.1 2088.2L680.1 2070.4L683.9 2063.0L684.8 2037.9L684.8 2012.7L684.8 1987.4L684.8 1962.1L682.5 1936.7L680.1 1930.4L666.8 1924.9L651.5 1911.3L647.2 1915.2L623.0 1913.4L594.5 1911.3L594.5 1911.3L594.5 1911.3L594.5 1936.7L594.5 1936.7L623.0 1950.7L623.0 1962.1L623.0 1987.4L594.5 1987.4L565.9 2012.7L590.8 2034.6L590.8 2037.9L590.8 2063.0L590.8 2088.2L590.8 2113.2L590.8 2138.2L590.8 2163.2L590.8 2188.1L590.8 2212.9L590.8 2237.7L565.9 2237.7L537.4 2237.7L508.9 2237.7L480.4 2237.7L451.8 2237.7L423.3 2237.7L394.8 2237.7L366.2 2237.7L337.7 2237.7L337.7 2212.9L337.7 2188.1L337.7 2163.2L337.7 2138.2L337.7 2113.2L337.7 2088.2L337.7 2063.0L337.7 2037.9L337.7 2012.7L337.7 1987.4L337.7 1962.1L337.7 1936.7L337.7 1911.3L337.7 1885.8L337.7 1860.3L337.7 1834.8L337.7 1809.1L337.7 1794.5L366.2 1794.5L394.8 1804.0L403.4 1809.1L423.3 1823.0L446.4 1809.1L451.8 1806.6L471.5 1801.2L480.4 1809.1L508.9 1783.5L508.9 1777.4L528.6 1757.8ZM1446.3 2034.3L1450.4 2037.9L1451.7 2037.9L1474.7 2063.0L1478.9 2077.2L1483.4 2088.2L1501.5 2113.2L1507.5 2116.7L1532.6 2138.2L1536.0 2141.5L1555.7 2163.2L1564.5 2170.6L1593.1 2182.5L1603.6 2188.1L1621.6 2194.1L1650.1 2197.9L1678.7 2203.6L1692.7 2212.9L1707.2 2237.7L1678.7 2237.7L1650.1 2237.7L1621.6 2237.7L1593.1 2237.7L1564.5 2237.7L1536.0 2237.7L1507.5 2237.7L1483.7 2237.7L1478.9 2229.0L1467.9 2212.9L1450.4 2198.8L1436.5 2188.1L1426.6 2163.2L1426.6 2138.2L1426.6 2113.2L1426.6 2088.2L1426.6 2063.0L1446.3 2037.9ZM623.0 2037.9L623.0 2047.4L611.6 2037.9Z"/>
<path fill="#fcc4ad" stroke="#fcc4ad" stroke-width="0.5" fill-rule="evenodd" d="M366.2 222.9L394.8 222.9L423.3 222.9L451.8 222.9L480.4 222.9L508.9 222.9L537.4 222.9L565.9 222.9L594.5 222.9L623.0 222.9L623.0 222.9L644.5 250.8L651.5 253.5L657.8 250.8L680.1 236.8L708.6 222.9L708.6 222.9L737.1 222.9L765.7 222.9L794.2 222.9L822.7 222.9L851.3 222.9L879.8 222.9L879.8 222.9L900.6 250.8L908.3 263.0L914.5 278.6L931.4 306.5L936.8 310.5L962.4 306.5L965.4 305.4L993.9 291.5L1004.4 278.6L1017.7 250.8L1022.4 222.9L1022.4 222.9L1051.0 222.9L1079.5 222.9L1108.0 222.9L1136.6 222.9L1165.1 222.9L1193.6 222.9L1222.2 222.9L1250.7 222.9L1279.2 222.9L1307.8 222.9L1336.3 222.9L1364.8 222.9L1393.3 222.9L1421.9 222.9L1450.4 222.9L1478.9 222.9L1507.5 222.9L1536.0 222.9L1564.5 222.9L1593.1 222.9L1621.6 222.9L1650.1 222.9L1678.7 222.9L1707.2 222.9L1735.7 222.9L1764.2 222.9L1792.8 222.9L1821.3 222.9L1849.8 222.9L1878.4 222.9L1906.9 222.9L1935.4 222.9L1964.0 222.9L1992.5 222.9L2021.0 222.9L2049.6 222.9L2078.1 222.9L2106.6 222.9L2135.1 222.9L2163.7 222.9L2192.2 222.9L2220.7 222.9L2249.3 222.9L2277.8 222.9L2277.8 250.8L2277.8 278.6L2277.8 306.5L2277.8 334.3L2277.8 362.1L2277.8 389.8L2277.8 417.5L2277.8 445.2L2277.8 472.9L2277.8 500.5L2277.8 528.1L2277.8 555.7L2277.8 583.2L2277.8 610.8L2277.8 638.2L2277.8 665.7L2277.8 693.1L2277.8 720.5L2277.8 747.8L2277.8 775.1L2277.8 802.4L2277.8 829.6L2277.8 856.8L2277.8 884.0L2277.8 911.2L2277.8 938.2L2277.8 965.3L2277.8 992.3L2277.8 1019.3L2277.8 1046.3L2277.8 1056.3L2249.3 1056.3L2220.7 1069.2L2203.3 1073.2L2192.2 1076.0L2163.7 1081.5L2135.1 1085.9L2117.5 1100.0L2106.6 1112.2L2092.1 1126.8L2078.1 1143.1L2055.6 1153.6L2052.8 1180.4L2051.8 1207.1L2068.8 1233.7L2077.7 1260.4L2078.1 1261.8L2100.5 1286.9L2106.6 1290.3L2135.1 1299.9L2150.3 1286.9L2163.7 1272.9L2174.2 1260.4L2192.2 1242.8L2196.4 1233.7L2213.1 1207.1L2220.7 1194.6L2234.3 1180.4L2249.3 1170.5L2277.8 1170.5L2277.8 1180.4L2277.8 1207.1L2277.8 1233.7L2277.8 1260.4L2277.8 1286.9L2277.8 1313.5L2277.8 1340.0L2277.8 1366.4L2277.8 1392.8L2277.8 1417.5L2249.3 1417.5L2220.7 1414.0L2192.2 1404.5L2163.7 1404.5L2135.1 1392.8L2135.1 1392.8L2135.1 1392.8L2135.1 1419.2L2135.1 1419.2L2141.4 1445.5L2154.5 1471.8L2163.7 1483.2L2174.1 1498.0L2192.2 1518.6L2196.5 1524.2L2211.2 1550.3L2211.2 1576.4L2211.2 1602.5L2203.2 1628.5L2194.5 1654.4L2192.2 1657.2L2183.2 1680.3L2163.7 1698.0L2142.6 1706.2L2135.1 1711.1L2106.6 1721.5L2078.1 1728.0L2049.6 1720.8L2021.0 1719.5L2006.9 1706.2L1992.5 1700.8L1969.9 1680.3L1964.0 1675.6L1935.4 1671.4L1916.8 1654.4L1906.9 1649.1L1878.4 1650.2L1854.5 1628.5L1849.8 1625.2L1821.3 1625.2L1814.3 1628.5L1792.8 1647.9L1764.2 1647.7L1735.7 1651.0L1728.1 1654.4L1719.9 1680.3L1724.2 1706.2L1732.8 1732.0L1735.7 1737.4L1740.0 1732.0L1764.2 1719.1L1792.8 1714.3L1808.3 1706.2L1821.3 1694.4L1834.3 1706.2L1845.5 1732.0L1849.8 1737.4L1875.2 1757.8L1863.4 1783.5L1849.8 1804.0L1847.0 1809.1L1839.6 1834.8L1839.9 1860.3L1832.7 1885.8L1821.3 1895.3L1792.8 1905.7L1764.2 1911.3L1764.2 1911.3L1735.7 1930.0L1711.9 1936.7L1707.2 1936.7L1678.7 1936.7L1650.1 1936.7L1644.4 1936.7L1621.6 1930.6L1593.1 1920.7L1577.2 1911.3L1564.5 1908.4L1536.0 1906.5L1507.5 1901.0L1485.4 1891.6L1478.9 1885.8L1464.7 1873.1L1454.0 1860.3L1450.4 1855.1L1421.9 1844.1L1413.0 1834.8L1417.2 1809.1L1421.9 1803.0L1431.5 1783.5L1450.4 1766.4L1456.2 1757.8L1478.9 1737.3L1484.8 1732.0L1488.6 1706.2L1494.5 1680.3L1505.5 1654.4L1499.9 1628.5L1496.9 1602.5L1507.0 1576.4L1507.5 1575.7L1514.6 1550.3L1522.3 1524.2L1536.0 1499.6L1537.4 1498.0L1564.5 1475.6L1593.1 1478.6L1621.6 1488.1L1632.4 1498.0L1650.1 1505.9L1670.0 1524.2L1678.7 1529.1L1685.0 1524.2L1707.2 1503.8L1713.4 1498.0L1707.2 1493.5L1683.6 1471.8L1678.7 1467.2L1655.1 1445.5L1650.1 1436.4L1634.0 1419.2L1636.4 1405.5L1650.1 1392.8L1678.7 1419.2L1707.2 1419.2L1735.7 1392.8L1735.7 1366.4L1707.2 1340.0L1682.1 1316.6L1690.5 1313.5L1678.7 1309.4L1651.7 1286.9L1650.1 1285.6L1621.6 1261.0L1621.2 1260.4L1615.1 1239.8L1621.6 1233.7L1608.1 1221.2L1603.5 1207.1L1593.1 1196.0L1572.3 1180.4L1564.5 1176.2L1540.3 1153.6L1543.9 1126.8L1536.0 1117.4L1517.6 1100.0L1507.5 1079.8L1478.9 1086.0L1450.4 1091.9L1440.7 1100.0L1423.8 1126.8L1423.9 1128.7L1421.9 1126.8L1393.3 1126.8L1364.8 1153.6L1364.8 1180.4L1393.3 1207.1L1421.9 1233.7L1450.4 1260.4L1478.9 1286.9L1503.9 1310.2L1478.9 1312.0L1450.4 1309.5L1423.8 1286.9L1421.9 1285.6L1393.3 1271.0L1381.9 1260.4L1368.0 1233.7L1364.8 1224.9L1336.3 1217.3L1325.3 1207.1L1307.8 1185.7L1302.9 1180.4L1282.9 1153.6L1279.2 1151.4L1259.7 1153.6L1250.7 1156.6L1222.2 1166.7L1193.6 1159.1L1178.4 1153.6L1165.1 1150.9L1136.6 1139.6L1122.8 1126.8L1110.2 1100.0L1108.0 1098.5L1079.5 1088.3L1054.3 1073.2L1051.0 1071.6L1022.4 1049.5L1019.9 1046.3L1005.1 1019.3L993.9 1001.9L983.7 992.3L965.4 974.9L954.5 965.3L936.8 938.4L935.7 938.2L908.3 934.2L879.8 919.3L872.7 938.2L867.1 965.3L861.9 992.3L852.9 1019.3L851.3 1020.9L827.6 1046.3L822.7 1050.8L807.0 1073.2L804.3 1100.0L805.2 1126.8L794.2 1137.1L783.3 1153.6L765.7 1170.1L749.8 1180.4L737.1 1206.1L735.7 1207.1L721.3 1233.7L709.0 1260.4L718.7 1286.9L723.7 1313.5L731.2 1340.0L708.6 1356.9L693.1 1366.4L680.1 1377.4L663.2 1392.8L651.5 1404.5L628.2 1392.8L623.0 1390.4L594.5 1378.5L575.4 1366.4L565.9 1356.9L557.2 1340.0L550.0 1313.5L542.9 1286.9L537.4 1260.4L537.4 1233.7L537.4 1207.1L537.4 1207.1L510.4 1180.4L508.9 1176.2L504.0 1153.6L508.2 1126.8L508.9 1125.8L521.0 1100.0L521.6 1073.2L511.0 1046.3L508.9 1042.6L497.9 1019.3L490.5 992.3L488.5 965.3L488.5 938.2L480.4 926.2L464.5 911.2L455.2 884.0L453.2 856.8L463.2 829.6L480.4 802.4L480.4 802.4L480.4 775.1L497.9 747.8L501.9 720.5L508.4 693.1L508.9 665.7L508.9 665.7L508.9 638.2L516.2 610.8L531.7 583.2L537.4 576.9L545.3 555.7L554.1 528.1L558.9 500.5L563.6 472.9L565.9 445.2L565.9 445.2L565.9 417.5L570.5 389.8L583.6 362.1L565.9 334.4L565.8 334.3L537.4 329.6L529.3 334.3L508.9 354.5L500.1 362.1L480.4 377.1L467.7 389.8L451.8 407.6L438.9 417.5L423.3 424.7L394.8 428.5L366.2 434.2L337.7 434.2L337.7 417.5L337.7 389.8L337.7 362.1L337.7 334.3L337.7 306.5L337.7 278.6L337.7 250.8L337.7 222.9ZM1087.8 278.6L1079.5 306.5L1079.5 306.5L1079.5 334.3L1079.5 334.3L1108.0 348.6L1112.4 334.3L1119.3 306.5L1118.2 278.6L1108.0 263.0ZM1735.7 417.5L1764.2 445.2L1735.7 472.9L1764.2 500.5L1792.8 472.9L1764.2 445.2L1792.8 417.5L1764.2 389.8ZM1650.1 528.1L1650.1 555.7L1650.1 583.2L1650.1 610.8L1678.7 638.2L1707.2 638.2L1707.2 665.7L1735.7 693.1L1735.7 720.5L1764.2 747.8L1792.8 747.8L1821.3 720.5L1849.8 720.5L1821.3 747.8L1849.8 775.1L1878.4 747.8L1849.8 720.5L1878.4 693.1L1849.8 665.7L1878.4 638.2L1878.4 610.8L1878.4 583.2L1849.8 555.7L1821.3 555.7L1792.8 583.2L1821.3 610.8L1821.3 638.2L1849.8 665.7L1821.3 665.7L1792.8 665.7L1764.2 638.2L1764.2 610.8L1764.2 583.2L1735.7 555.7L1707.2 528.1L1678.7 500.5ZM1849.8 829.6L1821.3 856.8L1849.8 884.0L1878.4 884.0L1906.9 856.8L1878.4 829.6ZM1667.6 938.2L1650.1 944.7L1621.6 953.6L1609.9 965.3L1618.0 992.3L1621.6 995.4L1650.1 1012.1L1657.3 1019.3L1667.2 1046.3L1667.2 1073.2L1672.0 1100.0L1678.7 1109.6L1695.9 1100.0L1707.2 1073.2L1707.2 1073.2L1707.2 1046.3L1707.2 1046.3L1705.0 1019.3L1703.5 992.3L1696.3 965.3L1681.1 938.2L1678.7 934.7ZM1906.9 965.3L1906.9 992.3L1935.4 1019.3L1964.0 1019.3L1935.4 1046.3L1964.0 1073.2L1992.5 1100.0L2021.0 1073.2L1992.5 1046.3L1964.0 1019.3L1992.5 992.3L1964.0 965.3L1935.4 938.2ZM1992.5 1153.6L2021.0 1180.4L2049.6 1153.6L2021.0 1126.8ZM1707.2 1207.1L1707.2 1233.7L1735.7 1260.4L1764.2 1286.9L1792.8 1260.4L1792.8 1233.7L1764.2 1207.1L1735.7 1180.4ZM1792.8 1286.9L1792.8 1313.5L1821.3 1340.0L1849.8 1313.5L1849.8 1286.9L1821.3 1260.4ZM1735.7 1419.2L1764.2 1445.5L1792.8 1419.2L1764.2 1392.8ZM1279.2 1347.4L1302.0 1366.4L1307.8 1373.7L1336.3 1390.1L1339.2 1392.8L1352.2 1419.2L1364.8 1436.1L1375.0 1445.5L1372.9 1471.8L1369.8 1498.0L1366.2 1524.2L1364.8 1525.5L1349.1 1550.3L1336.3 1562.1L1330.2 1576.4L1307.8 1597.0L1303.4 1602.5L1301.8 1628.5L1297.5 1654.4L1292.2 1680.3L1285.2 1706.2L1279.2 1732.0L1279.2 1732.0L1279.2 1757.8L1277.6 1783.5L1272.5 1809.1L1268.5 1834.8L1274.7 1860.3L1278.7 1885.8L1279.2 1889.6L1290.0 1911.3L1302.8 1936.7L1288.4 1962.1L1279.2 1965.7L1262.4 1987.4L1250.7 2000.0L1234.7 2012.7L1222.2 2019.8L1193.6 2019.8L1165.1 2019.8L1136.6 2014.5L1129.3 2012.7L1108.0 2000.5L1099.9 1987.4L1079.5 1981.1L1062.4 1962.1L1054.3 1936.7L1054.3 1911.3L1054.3 1885.8L1054.3 1860.3L1054.3 1834.8L1054.3 1809.1L1054.3 1783.5L1054.3 1757.8L1053.6 1732.0L1051.0 1706.2L1059.2 1680.3L1079.5 1667.2L1108.0 1658.4L1111.2 1654.4L1126.7 1628.5L1136.6 1616.4L1151.7 1602.5L1165.1 1592.9L1172.4 1576.4L1193.6 1557.0L1197.9 1550.3L1199.5 1524.2L1203.6 1498.0L1210.9 1471.8L1222.2 1452.1L1250.7 1461.6L1256.6 1471.8L1279.2 1494.4L1289.8 1471.8L1283.1 1445.5L1279.2 1433.0L1269.9 1419.2L1262.5 1392.8L1265.8 1366.4ZM537.4 1509.1L565.7 1524.2L565.9 1524.4L594.5 1548.7L598.8 1550.3L623.0 1555.3L651.5 1556.7L680.1 1556.0L708.6 1555.3L728.9 1550.3L737.1 1546.1L765.7 1539.6L785.7 1550.3L791.1 1576.4L794.0 1602.5L789.5 1628.5L782.4 1654.4L776.6 1680.3L769.0 1706.2L765.7 1714.2L737.1 1712.1L708.6 1706.2L708.6 1680.3L708.6 1680.3L699.7 1654.4L680.1 1646.6L660.1 1628.5L651.5 1622.0L623.0 1619.2L594.5 1612.3L565.9 1616.8L537.4 1619.4L508.9 1612.4L494.7 1602.5L496.6 1576.4L499.0 1550.3L508.9 1537.0L520.0 1524.2ZM2106.6 1770.0L2135.1 1764.0L2163.7 1768.6L2192.2 1773.1L2220.7 1769.3L2249.3 1765.8L2277.8 1765.8L2277.8 1783.5L2277.8 1809.1L2277.8 1834.8L2277.8 1860.3L2277.8 1885.8L2277.8 1911.3L2277.8 1936.7L2277.8 1962.1L2277.8 1987.4L2277.8 2012.7L2277.8 2037.9L2277.8 2063.0L2277.8 2088.2L2277.8 2113.2L2277.8 2138.2L2277.8 2163.2L2277.8 2188.1L2277.8 2212.9L2277.8 2237.7L2249.3 2237.7L2220.7 2237.7L2192.2 2237.7L2163.7 2237.7L2135.1 2237.7L2126.8 2237.7L2135.1 2225.3L2140.4 2212.9L2139.9 2188.1L2135.1 2170.3L2131.1 2163.2L2120.9 2138.2L2106.6 2129.9L2080.7 2113.2L2078.1 2112.5L2049.6 2107.6L2021.0 2096.5L2011.1 2088.2L1992.5 2079.8L1964.0 2075.2L1935.4 2069.0L1924.5 2063.0L1906.9 2051.9L1895.5 2037.9L1895.5 2012.7L1906.9 1987.4L1906.9 1987.4L1906.9 1962.1L1927.9 1936.7L1927.0 1911.3L1927.0 1885.8L1923.6 1860.3L1935.4 1839.7L1939.3 1834.8L1964.0 1819.8L1979.1 1809.1L1992.5 1798.3L2021.0 1792.6L2039.4 1809.1L2049.6 1812.5L2054.6 1809.1L2078.1 1788.0L2095.0 1783.5ZM537.4 1804.0L542.5 1809.1L565.9 1833.6L567.0 1834.8L573.0 1860.3L575.2 1885.8L580.0 1911.3L578.6 1936.7L594.5 1954.5L604.4 1962.1L594.5 1970.9L583.1 1987.4L581.8 1998.6L565.9 2012.7L578.4 2023.6L578.4 2037.9L578.4 2063.0L578.4 2088.2L578.4 2113.2L578.4 2138.2L578.4 2163.2L578.4 2188.1L578.4 2212.9L578.4 2237.7L565.9 2237.7L537.4 2237.7L508.9 2237.7L480.4 2237.7L451.8 2237.7L423.3 2237.7L394.8 2237.7L366.2 2237.7L337.7 2237.7L337.7 2212.9L337.7 2188.1L337.7 2163.2L337.7 2138.2L337.7 2113.2L337.7 2088.2L337.7 2063.0L337.7 2037.9L337.7 2012.7L337.7 1987.4L337.7 1962.1L337.7 1936.7L337.7 1911.3L337.7 1885.8L366.2 1885.8L366.2 1885.8L366.2 1860.3L394.8 1845.3L423.3 1845.3L451.8 1840.2L473.4 1834.8L480.4 1831.5L508.9 1821.3L530.9 1809.1ZM1393.3 1933.8L1396.9 1936.7L1399.7 1962.1L1393.3 1975.3L1375.3 1962.1L1384.0 1936.7ZM822.7 1984.8L827.0 1987.4L848.5 2012.7L851.3 2016.2L861.3 2037.9L851.3 2046.8L841.1 2063.0L822.7 2079.2L794.2 2078.0L765.7 2076.3L737.1 2071.4L729.0 2063.0L737.1 2043.1L740.5 2037.9L765.7 2022.8L782.2 2012.7L794.2 2002.5L817.2 1987.4ZM1564.5 2213.1L1593.1 2225.4L1621.6 2237.7L1593.1 2237.7L1564.5 2237.7L1536.0 2237.7Z"/>
<path fill="#fca082" stroke="#fca082" stroke-width="0.5" fill-rule="evenodd" d="M366.2 222.9L394.8 222.9L423.3 222.9L451.8 222.9L480.4 222.9L508.9 222.9L537.4 222.9L537.4 250.8L537.4 278.6L508.9 299.9L501.8 306.5L480.4 320.0L461.4 334.3L451.8 343.9L438.3 362.1L423.3 377.1L394.8 367.6L383.9 362.1L366.2 348.6L337.7 348.6L337.7 334.3L337.7 306.5L337.7 278.6L337.7 250.8L337.7 222.9ZM822.7 247.2L828.0 250.8L851.3 263.0L869.7 278.6L879.8 306.5L879.8 334.3L879.8 334.3L908.3 345.1L936.8 355.4L954.5 362.1L965.4 367.6L993.9 377.1L1008.6 389.8L1022.4 408.3L1029.9 417.5L1051.0 434.2L1079.5 443.7L1082.8 445.2L1108.0 472.9L1108.0 500.5L1108.0 500.5L1122.6 528.1L1136.6 538.8L1152.1 555.7L1165.1 568.2L1178.1 555.7L1193.6 538.8L1207.6 528.1L1202.9 500.5L1193.6 491.3L1175.3 472.9L1165.1 462.7L1136.6 445.2L1136.6 417.5L1140.0 389.8L1144.4 362.1L1147.5 334.3L1149.8 306.5L1155.0 278.6L1165.1 263.0L1184.0 250.8L1193.6 242.4L1222.2 222.9L1222.2 222.9L1250.7 222.9L1279.2 222.9L1307.8 222.9L1336.3 222.9L1364.8 222.9L1393.3 222.9L1421.9 222.9L1450.4 222.9L1478.9 222.9L1507.5 222.9L1536.0 222.9L1564.5 222.9L1593.1 222.9L1621.6 222.9L1650.1 222.9L1678.7 222.9L1707.2 222.9L1735.7 222.9L1764.2 222.9L1792.8 222.9L1821.3 222.9L1849.8 222.9L1878.4 222.9L1906.9 222.9L1935.4 222.9L1964.0 222.9L1992.5 222.9L2021.0 222.9L2049.6 222.9L2078.1 222.9L2106.6 222.9L2135.1 222.9L2163.7 222.9L2192.2 222.9L2220.7 222.9L2249.3 222.9L2277.8 222.9L2277.8 250.8L2277.8 278.6L2277.8 306.5L2249.3 306.5L2249.3 306.5L2249.3 334.3L2242.5 362.1L2228.7 389.8L2220.7 417.5L2220.7 417.5L2220.7 445.2L2220.7 445.2L2229.1 472.9L2249.3 491.3L2277.8 491.3L2277.8 500.5L2277.8 528.1L2277.8 555.7L2277.8 583.2L2277.8 610.8L2277.8 638.2L2277.8 665.7L2277.8 693.1L2277.8 720.5L2277.8 747.8L2277.8 775.1L2277.8 802.4L2277.8 829.6L2277.8 856.8L2277.8 884.0L2277.8 911.2L2277.8 938.2L2277.8 965.3L2277.8 992.3L2277.8 1019.3L2277.8 1035.7L2249.3 1035.7L2235.6 1046.3L2220.7 1054.9L2192.2 1064.6L2163.7 1069.2L2135.1 1073.0L2134.8 1073.2L2106.6 1095.0L2101.2 1100.0L2078.1 1123.2L2069.9 1126.8L2049.6 1137.3L2038.3 1143.1L2021.0 1126.8L1992.5 1153.6L2007.9 1168.1L2010.1 1180.4L2011.0 1207.1L2021.0 1223.8L2031.0 1233.7L2048.8 1260.4L2049.6 1265.3L2053.1 1286.9L2057.9 1313.5L2078.1 1324.3L2106.6 1337.8L2108.7 1340.0L2119.4 1366.4L2121.4 1392.8L2122.1 1419.2L2123.6 1445.5L2126.1 1471.8L2131.7 1498.0L2135.1 1504.4L2160.0 1524.2L2163.7 1528.7L2177.9 1550.3L2177.9 1576.4L2177.9 1602.5L2178.9 1628.5L2179.4 1654.4L2165.2 1680.3L2163.7 1681.7L2135.1 1697.7L2106.6 1703.5L2092.8 1706.2L2078.1 1711.0L2049.6 1706.7L2045.6 1706.2L2021.0 1704.1L1992.5 1694.1L1977.3 1680.3L1964.0 1669.6L1935.4 1660.1L1929.2 1654.4L1906.9 1642.5L1878.4 1644.8L1860.4 1628.5L1849.8 1621.0L1821.3 1621.0L1805.5 1628.5L1792.8 1639.9L1764.2 1639.4L1735.7 1640.6L1707.2 1653.2L1705.4 1654.4L1700.8 1680.3L1705.1 1706.2L1707.2 1714.2L1712.1 1732.0L1724.2 1757.8L1735.7 1775.5L1751.8 1757.8L1764.2 1741.2L1770.4 1732.0L1792.8 1724.5L1815.2 1732.0L1821.3 1741.2L1833.8 1757.8L1841.8 1783.5L1831.0 1809.1L1827.8 1834.8L1833.2 1860.3L1821.3 1885.8L1821.3 1885.8L1792.8 1900.9L1764.2 1905.7L1754.1 1911.3L1735.7 1923.4L1707.2 1930.0L1678.7 1932.9L1650.1 1930.0L1621.6 1922.9L1593.1 1911.3L1593.1 1911.3L1564.5 1904.8L1536.0 1902.6L1507.5 1894.9L1486.1 1885.8L1478.9 1881.6L1461.1 1860.3L1450.4 1844.7L1432.1 1834.8L1435.7 1809.1L1443.5 1783.5L1450.4 1777.3L1463.5 1757.8L1478.9 1743.9L1492.2 1732.0L1500.6 1706.2L1507.5 1689.9L1511.0 1680.3L1517.4 1654.4L1515.7 1628.5L1514.2 1602.5L1521.5 1576.4L1530.7 1550.3L1536.0 1537.7L1543.5 1524.2L1564.5 1501.5L1593.1 1504.4L1621.6 1506.4L1650.1 1515.8L1659.3 1524.2L1678.7 1535.1L1692.9 1524.2L1707.2 1511.1L1721.3 1498.0L1707.2 1487.8L1689.8 1471.8L1678.7 1461.5L1661.3 1445.5L1650.1 1425.1L1644.6 1419.2L1649.1 1393.8L1650.1 1392.8L1678.7 1419.2L1707.2 1419.2L1735.7 1392.8L1735.7 1374.1L1751.7 1366.4L1755.8 1340.0L1751.9 1313.5L1735.7 1302.6L1707.2 1292.2L1698.9 1286.9L1678.7 1261.6L1677.2 1260.4L1656.1 1233.7L1650.1 1223.8L1641.7 1207.1L1628.1 1180.4L1621.6 1176.2L1593.1 1157.2L1584.3 1153.6L1564.5 1149.3L1553.7 1126.8L1536.0 1105.5L1530.2 1100.0L1519.2 1073.2L1507.5 1056.3L1478.9 1054.9L1450.4 1052.5L1429.2 1073.2L1421.9 1079.4L1393.3 1099.1L1392.0 1100.0L1391.1 1126.8L1392.0 1128.1L1364.8 1153.6L1364.8 1180.4L1393.3 1207.1L1421.9 1233.7L1450.4 1260.4L1478.9 1286.9L1496.8 1303.5L1478.9 1304.9L1450.4 1301.4L1433.3 1286.9L1421.9 1279.0L1393.3 1260.4L1393.3 1260.4L1374.3 1233.7L1364.8 1207.1L1364.8 1207.1L1336.3 1193.7L1325.3 1180.4L1307.8 1159.0L1303.6 1153.6L1279.2 1139.2L1250.7 1141.3L1222.2 1143.8L1193.6 1136.9L1169.2 1126.8L1165.1 1124.8L1136.6 1100.1L1136.5 1100.0L1108.0 1080.0L1093.4 1073.2L1079.5 1067.7L1051.0 1052.5L1043.3 1046.3L1022.4 1025.1L1019.0 1019.3L1001.1 992.3L993.9 979.1L979.4 965.3L965.4 951.1L955.8 938.2L939.4 911.2L936.8 907.9L908.3 890.8L902.5 884.0L888.4 856.8L879.8 843.2L861.9 856.8L851.3 871.2L840.4 884.0L826.8 911.2L829.8 938.2L835.5 965.3L829.8 992.3L822.7 1005.0L794.2 992.3L794.2 992.3L777.9 965.3L765.7 962.2L755.1 965.3L737.1 982.3L708.6 992.3L708.6 992.3L708.6 1019.3L708.6 1046.3L708.6 1073.2L708.6 1073.2L708.6 1073.2L708.6 1046.3L708.6 1019.3L737.1 1005.0L765.7 1005.0L794.2 1019.3L789.8 1046.3L785.9 1073.2L784.1 1100.0L782.1 1126.8L769.6 1153.6L765.7 1157.3L737.1 1166.7L708.6 1176.2L680.1 1176.2L651.5 1153.6L651.5 1153.6L651.5 1153.6L651.5 1180.4L651.5 1180.4L655.7 1207.1L674.5 1233.7L679.9 1260.4L680.1 1261.8L684.8 1286.9L700.2 1313.5L680.1 1327.2L662.4 1340.0L651.5 1347.4L623.0 1341.7L611.2 1340.0L594.5 1337.8L577.9 1313.5L568.0 1286.9L565.9 1280.1L560.6 1260.4L565.9 1242.8L569.8 1233.7L591.2 1207.1L573.2 1180.4L565.9 1176.2L537.4 1166.7L528.9 1153.6L530.4 1126.8L536.2 1100.0L537.4 1073.2L537.4 1073.2L537.4 1046.3L537.4 1046.3L520.4 1019.3L508.9 1005.0L503.3 992.3L498.7 965.3L498.7 938.2L480.4 911.2L480.4 884.0L485.3 856.8L501.1 829.6L508.9 805.2L509.6 802.4L519.1 775.1L537.4 747.8L537.4 747.8L537.4 720.5L537.4 693.1L537.4 665.7L537.4 638.2L547.9 610.8L558.2 583.2L565.9 557.9L566.5 555.7L573.6 528.1L580.3 500.5L589.8 472.9L594.5 458.0L601.0 445.2L614.9 417.5L623.0 398.3L626.5 389.8L630.9 362.1L634.4 334.3L641.7 306.5L651.5 298.7L673.3 278.6L680.1 275.2L708.6 263.0L737.1 263.0L765.7 263.0L794.2 253.5L808.2 250.8ZM1735.7 417.5L1764.2 445.2L1735.7 472.9L1764.2 500.5L1792.8 472.9L1764.2 445.2L1792.8 417.5L1764.2 389.8ZM1650.1 528.1L1650.1 555.7L1650.1 583.2L1650.1 610.8L1678.7 638.2L1707.2 638.2L1707.2 665.7L1735.7 693.1L1735.7 720.5L1764.2 747.8L1792.8 747.8L1821.3 720.5L1849.8 720.5L1821.3 747.8L1849.8 775.1L1878.4 747.8L1849.8 720.5L1878.4 693.1L1863.2 678.5L1869.9 665.7L1878.4 645.4L1881.3 638.2L1878.4 633.6L1878.4 610.8L1878.4 583.2L1849.8 555.7L1821.3 555.7L1792.8 583.2L1821.3 610.8L1821.3 623.1L1814.6 638.2L1792.8 657.7L1789.6 662.6L1764.2 638.2L1764.2 610.8L1764.2 583.2L1735.7 555.7L1707.2 528.1L1678.7 500.5ZM1849.8 829.6L1821.3 856.8L1849.8 884.0L1878.4 884.0L1906.9 856.8L1878.4 829.6ZM1607.5 938.2L1593.1 953.6L1587.2 965.3L1593.1 983.4L1595.9 992.3L1621.6 1014.5L1628.8 1019.3L1644.4 1046.3L1644.4 1073.2L1645.7 1100.0L1650.1 1119.1L1653.3 1126.8L1678.7 1149.3L1707.2 1148.9L1735.7 1147.7L1764.2 1145.6L1792.8 1143.9L1797.4 1126.8L1810.7 1100.0L1792.8 1083.5L1773.1 1073.2L1764.2 1067.7L1750.4 1046.3L1738.6 1019.3L1735.7 1014.5L1723.9 992.3L1712.1 965.3L1707.2 957.4L1695.9 938.2L1678.7 912.8L1650.1 921.1L1621.6 930.3ZM1421.0 965.3L1421.9 965.9L1438.5 992.3L1450.4 1005.0L1458.4 992.3L1457.3 965.3L1450.4 957.4L1421.9 965.0ZM1906.9 965.3L1906.9 992.3L1935.4 1019.3L1964.0 1019.3L1935.4 1046.3L1964.0 1073.2L1992.5 1100.0L2021.0 1073.2L1992.5 1046.3L1964.0 1019.3L1992.5 992.3L1964.0 965.3L1935.4 938.2ZM1707.2 1207.1L1707.2 1233.7L1735.7 1260.4L1764.2 1286.9L1792.8 1260.4L1792.8 1233.7L1764.2 1207.1L1735.7 1180.4ZM1792.8 1286.9L1792.8 1313.5L1821.3 1340.0L1849.8 1313.5L1849.8 1286.9L1821.3 1260.4ZM1735.7 1419.2L1764.2 1445.5L1792.8 1419.2L1764.2 1392.8ZM2249.3 1193.1L2277.8 1193.1L2277.8 1207.1L2277.8 1233.7L2277.8 1260.4L2277.8 1286.9L2277.8 1313.5L2277.8 1340.0L2277.8 1366.4L2277.8 1392.8L2277.8 1407.1L2249.3 1407.1L2220.7 1398.8L2209.4 1392.8L2192.2 1369.7L2187.4 1366.4L2174.2 1340.0L2170.1 1313.5L2192.2 1290.3L2193.0 1286.9L2200.0 1260.4L2213.9 1233.7L2220.7 1223.8L2235.4 1207.1ZM1336.3 1418.8L1336.5 1419.2L1349.8 1445.5L1348.5 1471.8L1345.2 1498.0L1336.3 1518.6L1330.7 1524.2L1329.5 1550.3L1322.7 1576.4L1307.8 1590.1L1298.0 1602.5L1294.3 1628.5L1284.7 1654.4L1279.2 1668.9L1274.0 1680.3L1265.3 1706.2L1259.4 1732.0L1257.7 1757.8L1254.8 1783.5L1250.7 1804.0L1249.7 1809.1L1246.2 1834.8L1250.7 1844.0L1257.0 1860.3L1264.1 1885.8L1266.4 1911.3L1268.7 1936.7L1259.3 1962.1L1250.7 1972.1L1232.8 1987.4L1222.2 1996.1L1193.6 1999.7L1165.1 2002.0L1136.6 1998.7L1122.7 1987.4L1108.0 1980.2L1079.5 1968.4L1073.8 1962.1L1060.9 1936.7L1060.9 1911.3L1060.9 1885.8L1060.9 1860.3L1060.9 1834.8L1060.9 1809.1L1060.9 1783.5L1060.9 1757.8L1066.5 1732.0L1070.0 1706.2L1079.5 1694.3L1108.0 1680.4L1108.1 1680.3L1128.4 1654.4L1136.6 1642.3L1148.4 1628.5L1165.1 1613.1L1171.9 1602.5L1181.5 1576.4L1193.6 1565.3L1203.3 1550.3L1206.8 1524.2L1216.1 1498.0L1222.2 1484.9L1241.5 1498.0L1250.7 1501.5L1279.2 1511.5L1307.8 1509.1L1320.5 1498.0L1320.8 1471.8L1318.6 1445.5L1335.3 1419.2ZM537.4 1549.2L539.0 1550.3L552.0 1576.4L565.1 1602.5L537.4 1608.0L523.5 1602.5L529.1 1576.4L536.4 1550.3ZM651.5 1575.7L680.1 1573.5L708.6 1571.6L737.1 1572.6L765.7 1575.7L766.0 1576.4L774.7 1602.5L767.3 1628.5L765.7 1632.8L737.1 1639.9L708.6 1642.3L680.1 1636.9L670.9 1628.5L651.5 1613.9L623.0 1607.6L609.8 1602.5L623.0 1588.0L648.8 1576.4ZM2249.3 1783.1L2277.8 1783.1L2277.8 1783.5L2277.8 1809.1L2277.8 1834.8L2277.8 1860.3L2277.8 1885.8L2277.8 1911.3L2277.8 1936.7L2277.8 1962.1L2277.8 1987.4L2277.8 2012.7L2277.8 2037.9L2277.8 2063.0L2277.8 2088.2L2277.8 2113.2L2277.8 2138.2L2277.8 2163.2L2277.8 2188.1L2277.8 2212.9L2277.8 2237.7L2249.3 2237.7L2220.7 2237.7L2192.2 2237.7L2163.7 2237.7L2140.9 2237.7L2151.0 2212.9L2149.4 2188.1L2143.3 2163.2L2135.1 2138.2L2135.1 2138.2L2106.6 2121.5L2093.6 2113.2L2078.1 2108.7L2049.6 2103.0L2022.7 2088.2L2021.0 2087.0L1992.5 2074.2L1964.0 2067.1L1949.7 2063.0L1935.4 2055.6L1906.9 2037.9L1906.9 2012.7L1925.9 1987.4L1925.9 1962.1L1935.4 1949.4L1939.5 1936.7L1939.5 1911.3L1939.5 1885.8L1940.0 1860.3L1961.4 1834.8L1964.0 1833.2L1992.5 1813.6L2003.7 1809.1L2021.0 1804.0L2026.7 1809.1L2049.6 1816.7L2060.9 1809.1L2078.1 1793.7L2106.6 1786.9L2135.1 1783.6L2163.7 1785.3L2192.2 1786.9L2220.7 1785.1L2246.6 1783.5ZM423.3 1857.9L451.8 1855.4L480.4 1851.6L508.9 1851.6L537.4 1851.6L544.1 1860.3L555.3 1885.8L565.6 1911.3L564.3 1936.7L565.9 1962.1L565.9 1962.1L568.8 1987.4L565.9 2012.7L565.9 2012.7L565.9 2037.9L565.9 2063.0L565.9 2088.2L565.9 2113.2L565.9 2138.2L565.9 2163.2L565.9 2188.1L565.9 2212.9L565.9 2237.7L537.4 2237.7L508.9 2237.7L480.4 2237.7L451.8 2237.7L423.3 2237.7L394.8 2237.7L366.2 2237.7L337.7 2237.7L337.7 2212.9L337.7 2188.1L337.7 2163.2L337.7 2138.2L337.7 2113.2L337.7 2088.2L337.7 2063.0L337.7 2037.9L337.7 2012.7L337.7 1987.4L337.7 1962.1L337.7 1936.7L337.7 1918.2L366.2 1918.2L371.6 1911.3L384.1 1885.8L394.8 1870.6L414.2 1860.3ZM822.7 2032.3L826.9 2037.9L828.5 2063.0L822.7 2068.1L794.2 2065.3L776.2 2063.0L794.2 2052.7L814.8 2037.9Z"/>
<path fill="#fb7c5c" stroke="#fb7c5c" stroke-width="0.5" fill-rule="evenodd" d="M1279.2 222.9L1279.2 222.9L1307.8 222.9L1336.3 222.9L1364.8 222.9L1393.3 222.9L1421.9 222.9L1450.4 222.9L1478.9 222.9L1507.5 222.9L1536.0 222.9L1564.5 222.9L1593.1 222.9L1621.6 222.9L1650.1 222.9L1678.7 222.9L1707.2 222.9L1735.7 222.9L1764.2 222.9L1792.8 222.9L1821.3 222.9L1849.8 222.9L1878.4 222.9L1906.9 222.9L1935.4 222.9L1964.0 222.9L1992.5 222.9L2021.0 222.9L2049.6 222.9L2078.1 222.9L2106.6 222.9L2135.1 222.9L2163.7 222.9L2192.2 222.9L2192.2 250.8L2192.2 278.6L2192.2 306.5L2192.2 334.3L2186.8 362.1L2180.2 389.8L2178.6 417.5L2180.0 445.2L2182.1 472.9L2187.0 500.5L2192.2 512.6L2209.6 528.1L2220.7 538.8L2229.5 555.7L2238.9 583.2L2249.3 595.9L2277.8 595.9L2277.8 610.8L2277.8 638.2L2277.8 665.7L2277.8 693.1L2277.8 720.5L2277.8 747.8L2277.8 775.1L2277.8 802.4L2277.8 829.6L2277.8 856.8L2277.8 884.0L2277.8 911.2L2277.8 938.2L2277.8 965.3L2277.8 992.3L2277.8 1017.2L2249.3 1017.2L2246.3 1019.3L2220.7 1039.3L2211.1 1046.3L2192.2 1054.3L2163.7 1059.7L2135.1 1064.2L2115.4 1073.2L2106.6 1079.9L2084.9 1100.0L2078.1 1106.9L2049.6 1120.2L2033.2 1126.8L2025.3 1130.9L2021.0 1126.8L2010.5 1136.8L1992.5 1143.3L1968.4 1153.6L1980.8 1180.4L1988.2 1207.1L1992.5 1214.2L2004.2 1233.7L2020.2 1260.4L2021.0 1286.9L2021.0 1313.5L2021.0 1313.5L2049.6 1329.0L2070.2 1340.0L2078.1 1343.3L2102.3 1366.4L2106.6 1386.8L2107.6 1392.8L2109.1 1419.2L2110.6 1445.5L2112.4 1471.8L2116.4 1498.0L2128.9 1524.2L2135.1 1534.1L2149.4 1550.3L2149.4 1576.4L2149.4 1602.5L2160.3 1628.5L2163.7 1642.3L2165.8 1654.4L2163.7 1658.3L2147.2 1680.3L2135.1 1687.3L2106.6 1693.6L2078.1 1699.4L2049.6 1697.0L2021.0 1694.6L1992.5 1687.4L1984.7 1680.3L1964.0 1663.6L1942.3 1654.4L1935.4 1649.9L1906.9 1635.8L1878.4 1639.4L1866.3 1628.5L1849.8 1616.9L1821.3 1616.9L1796.7 1628.5L1792.8 1632.0L1764.2 1631.0L1735.7 1630.2L1707.2 1636.9L1682.8 1654.4L1681.8 1680.3L1686.1 1706.2L1691.4 1732.0L1699.5 1757.8L1707.2 1771.3L1714.6 1783.5L1733.2 1809.1L1735.7 1813.3L1740.1 1809.1L1764.2 1785.0L1765.8 1783.5L1786.2 1757.8L1792.8 1747.0L1799.3 1757.8L1813.1 1783.5L1814.9 1809.1L1816.1 1834.8L1821.3 1843.9L1826.6 1860.3L1821.3 1871.7L1812.4 1885.8L1792.8 1896.2L1764.2 1900.0L1743.9 1911.3L1735.7 1916.7L1707.2 1921.5L1678.7 1925.2L1650.1 1921.5L1621.6 1915.2L1612.1 1911.3L1593.1 1906.7L1564.5 1901.1L1536.0 1898.6L1507.5 1888.9L1500.3 1885.8L1478.9 1873.1L1468.2 1860.3L1450.9 1834.8L1452.6 1809.1L1455.2 1783.5L1470.8 1757.8L1478.9 1750.4L1499.6 1732.0L1507.5 1713.6L1512.3 1706.2L1521.7 1680.3L1528.0 1654.4L1527.3 1628.5L1527.0 1602.5L1535.7 1576.4L1536.0 1575.7L1546.7 1550.3L1564.5 1524.4L1568.5 1524.2L1593.1 1523.4L1621.6 1522.7L1632.3 1524.2L1650.1 1526.6L1678.7 1541.2L1700.8 1524.2L1707.2 1518.4L1729.1 1498.0L1707.2 1482.1L1696.0 1471.8L1678.7 1455.8L1667.5 1445.5L1655.2 1419.2L1658.5 1400.6L1678.7 1419.2L1707.2 1419.2L1735.7 1392.8L1735.7 1387.3L1764.2 1378.1L1779.1 1366.4L1780.5 1340.0L1776.1 1313.5L1764.2 1303.3L1737.1 1286.9L1735.7 1286.2L1707.2 1266.5L1701.6 1260.4L1707.0 1233.7L1707.2 1233.3L1707.2 1233.7L1735.7 1260.4L1764.2 1286.9L1792.8 1260.4L1792.8 1233.7L1767.4 1210.0L1781.5 1207.1L1792.8 1201.9L1802.8 1180.4L1810.4 1153.6L1821.3 1128.9L1822.5 1126.8L1849.8 1102.0L1851.2 1100.0L1849.8 1088.2L1842.4 1073.2L1821.3 1065.2L1792.8 1056.3L1779.8 1046.3L1764.2 1024.4L1761.4 1019.3L1745.3 992.3L1735.7 979.8L1728.0 965.3L1710.8 938.2L1707.2 932.0L1693.8 911.2L1678.7 897.9L1650.1 900.3L1621.6 905.1L1593.1 900.3L1581.4 884.0L1571.3 856.8L1564.5 852.8L1551.0 856.8L1542.7 884.0L1557.4 911.2L1564.5 938.2L1564.5 965.3L1564.5 965.3L1573.8 992.3L1593.1 1014.5L1598.9 1019.3L1621.6 1046.3L1621.6 1073.2L1618.6 1100.0L1593.1 1123.2L1577.5 1126.8L1564.5 1128.8L1563.6 1126.8L1543.5 1100.0L1536.0 1075.6L1535.1 1073.2L1522.2 1046.3L1507.5 1024.2L1499.3 1019.3L1494.5 992.3L1490.8 965.3L1478.9 938.4L1478.8 938.2L1450.4 919.3L1421.9 920.4L1393.3 921.8L1385.2 938.2L1377.0 965.3L1389.9 992.3L1393.3 995.4L1421.9 1012.1L1429.1 1019.3L1428.4 1046.3L1421.9 1052.5L1393.3 1071.6L1390.4 1073.2L1364.8 1092.1L1352.7 1100.0L1364.8 1110.2L1373.6 1126.8L1381.1 1138.3L1364.8 1153.6L1364.8 1180.4L1393.3 1207.1L1421.9 1233.7L1450.4 1260.4L1478.9 1286.9L1489.6 1296.9L1478.9 1297.7L1450.4 1293.4L1442.8 1286.9L1421.9 1272.3L1403.5 1260.4L1393.3 1251.5L1380.7 1233.7L1372.3 1207.1L1364.8 1192.2L1347.3 1180.4L1336.3 1161.3L1330.6 1153.6L1322.0 1126.8L1307.8 1120.2L1279.5 1126.8L1279.2 1126.9L1250.7 1127.8L1222.2 1128.9L1215.6 1126.8L1193.6 1119.1L1165.1 1102.0L1162.8 1100.0L1136.6 1080.8L1125.5 1073.2L1108.0 1065.2L1079.5 1052.5L1068.6 1046.3L1051.0 1035.4L1034.7 1019.3L1022.4 1005.0L1013.9 992.3L999.3 965.3L993.9 957.4L974.8 938.2L965.4 924.3L957.1 911.2L936.8 885.1L935.3 884.0L912.6 856.8L908.3 843.2L902.1 829.6L879.8 805.2L860.0 829.6L851.3 836.9L822.7 852.8L819.5 856.8L809.8 884.0L794.2 911.2L794.2 911.2L765.7 934.2L754.6 938.2L737.1 944.7L708.6 953.6L694.7 965.3L684.4 992.3L681.7 1019.3L680.1 1033.5L678.4 1046.3L674.1 1073.2L663.8 1100.0L651.5 1109.6L623.0 1119.1L599.8 1126.8L594.5 1128.9L590.8 1126.8L568.8 1100.0L565.9 1095.9L557.0 1073.2L550.6 1046.3L541.2 1019.3L537.4 1014.5L518.1 992.3L508.9 965.3L508.9 938.2L511.1 911.2L521.7 884.0L537.4 856.8L537.4 856.8L537.4 829.6L538.8 802.4L552.4 775.1L565.9 747.8L565.9 747.8L565.9 720.5L565.9 693.1L565.9 665.7L565.9 638.2L573.8 610.8L581.5 583.2L587.8 555.7L593.1 528.1L594.5 523.2L611.0 500.5L623.0 481.8L627.7 472.9L643.3 445.2L651.5 434.2L680.1 434.2L708.6 434.2L721.5 417.5L722.0 389.8L708.6 377.1L688.9 362.1L687.2 334.3L701.1 306.5L708.6 300.2L723.6 306.5L737.1 320.0L751.4 334.3L765.7 343.9L772.8 334.3L786.7 306.5L794.2 298.7L819.1 278.6L822.7 277.2L824.9 278.6L844.8 306.5L849.3 334.3L851.3 339.1L861.5 362.1L879.8 377.1L903.2 389.8L908.3 397.6L917.8 417.5L917.8 445.2L921.9 472.9L936.8 491.3L965.4 491.3L993.9 491.3L1007.9 500.5L1022.4 523.2L1024.7 528.1L1035.5 555.7L1051.0 576.9L1079.5 578.7L1108.0 579.7L1111.9 583.2L1136.6 599.7L1165.1 605.4L1193.6 591.2L1209.4 583.2L1222.2 572.9L1233.8 555.7L1250.7 531.2L1253.1 528.1L1263.0 500.5L1271.7 472.9L1250.7 450.3L1246.7 445.2L1226.8 417.5L1222.2 410.0L1201.8 389.8L1193.6 377.1L1187.7 362.1L1185.8 334.3L1190.3 306.5L1193.6 301.2L1211.7 278.6L1222.2 272.5L1250.7 257.3L1260.1 250.8ZM1735.7 417.5L1764.2 445.2L1735.7 472.9L1764.2 500.5L1792.8 472.9L1764.2 445.2L1792.8 417.5L1764.2 389.8ZM1650.1 528.1L1650.1 555.7L1650.1 583.2L1650.1 610.8L1678.7 638.2L1707.2 638.2L1707.2 665.7L1735.7 693.1L1735.7 720.5L1764.2 747.8L1792.8 747.8L1821.3 720.5L1849.8 720.5L1821.3 747.8L1849.8 775.1L1878.4 747.8L1849.8 720.5L1865.2 705.7L1878.4 706.3L1905.0 693.1L1906.9 689.3L1924.5 665.7L1934.3 638.2L1906.9 616.0L1903.0 610.8L1884.1 583.2L1878.4 577.3L1850.3 555.7L1849.8 555.5L1848.6 555.7L1821.3 555.7L1797.6 578.6L1792.8 580.7L1786.0 583.2L1778.5 610.8L1774.2 638.2L1770.3 644.1L1764.2 638.2L1764.2 610.8L1764.2 583.2L1735.7 555.7L1707.2 528.1L1678.7 500.5ZM875.3 555.7L868.1 583.2L875.8 610.8L879.8 630.8L908.3 630.8L936.8 638.2L936.8 665.7L936.8 693.1L936.8 720.5L936.8 747.8L936.8 747.8L936.8 747.8L936.8 720.5L965.4 719.6L993.9 719.6L1022.4 700.6L1043.3 693.1L1022.4 673.9L1005.3 665.7L993.9 662.5L965.4 662.5L936.8 638.2L936.8 610.8L936.8 583.2L936.8 583.2L908.3 558.8L903.2 555.7L879.8 548.3ZM1849.8 829.6L1821.3 856.8L1849.8 884.0L1878.4 884.0L1906.9 856.8L1878.4 829.6ZM1906.9 965.3L1906.9 992.3L1935.4 1019.3L1964.0 1019.3L1935.4 1046.3L1964.0 1073.2L1992.5 1100.0L2021.0 1073.2L1992.5 1046.3L1964.0 1019.3L1992.5 992.3L1964.0 965.3L1935.4 938.2ZM1792.8 1286.9L1792.8 1313.5L1821.3 1340.0L1849.8 1313.5L1849.8 1286.9L1821.3 1260.4ZM1735.7 1419.2L1764.2 1445.5L1792.8 1419.2L1764.2 1392.8ZM1791.7 1471.8L1771.2 1498.0L1792.8 1506.4L1803.9 1498.0L1793.7 1471.8L1792.8 1471.1ZM2249.3 1214.2L2277.8 1214.2L2277.8 1233.7L2277.8 1260.4L2277.8 1286.9L2277.8 1313.5L2277.8 1340.0L2277.8 1366.4L2277.8 1392.8L2277.8 1396.7L2249.3 1396.7L2238.4 1392.8L2220.7 1380.6L2208.3 1366.4L2202.1 1340.0L2199.8 1313.5L2206.5 1286.9L2214.4 1260.4L2220.7 1249.1L2231.3 1233.7ZM594.5 1242.8L623.0 1250.4L648.6 1260.4L623.0 1279.8L606.6 1286.9L594.5 1290.3L593.0 1286.9L583.8 1260.4ZM1222.2 1506.4L1250.7 1516.7L1274.0 1524.2L1279.2 1525.9L1307.8 1546.5L1309.8 1550.3L1315.1 1576.4L1307.8 1583.2L1292.6 1602.5L1286.8 1628.5L1279.2 1645.0L1270.0 1654.4L1258.5 1680.3L1250.7 1699.4L1247.5 1706.2L1239.6 1732.0L1236.2 1757.8L1232.0 1783.5L1226.8 1809.1L1223.9 1834.8L1239.3 1860.3L1249.5 1885.8L1250.7 1911.3L1250.7 1936.7L1237.4 1962.1L1222.2 1975.3L1193.6 1982.4L1165.1 1986.7L1136.6 1984.8L1108.0 1971.1L1089.0 1962.1L1079.5 1956.6L1067.6 1936.7L1067.6 1911.3L1067.6 1885.8L1067.6 1860.3L1067.6 1834.8L1067.6 1809.1L1067.6 1783.5L1067.6 1757.8L1079.5 1732.0L1079.5 1732.0L1090.5 1706.2L1108.0 1694.7L1129.5 1680.3L1136.6 1670.3L1145.5 1654.4L1165.1 1632.8L1169.1 1628.5L1184.5 1602.5L1190.6 1576.4L1193.6 1573.6L1208.6 1550.3L1214.2 1524.2ZM651.5 1594.8L680.1 1591.1L708.6 1588.0L737.1 1597.9L744.3 1602.5L737.1 1608.5L708.6 1622.4L680.1 1623.8L651.5 1605.8L639.5 1602.5ZM2078.1 1799.4L2106.6 1794.5L2135.1 1791.8L2163.7 1793.2L2192.2 1794.5L2220.7 1792.8L2249.3 1791.1L2277.8 1791.1L2277.8 1809.1L2277.8 1834.8L2277.8 1860.3L2277.8 1885.8L2277.8 1911.3L2277.8 1936.7L2277.8 1962.1L2277.8 1987.4L2277.8 2012.7L2277.8 2037.9L2277.8 2063.0L2277.8 2088.2L2277.8 2113.2L2277.8 2138.2L2277.8 2163.2L2277.8 2188.1L2277.8 2212.9L2277.8 2237.7L2249.3 2237.7L2220.7 2237.7L2192.2 2237.7L2163.7 2237.7L2152.3 2237.7L2161.6 2212.9L2158.9 2188.1L2153.5 2163.2L2144.7 2138.2L2135.1 2130.4L2106.6 2113.2L2106.6 2113.2L2078.1 2105.0L2049.6 2098.4L2031.1 2088.2L2021.0 2081.0L1992.5 2068.6L1973.5 2063.0L1964.0 2057.6L1935.4 2040.8L1930.7 2037.9L1930.7 2012.7L1935.4 2005.5L1941.6 1987.4L1941.6 1962.1L1947.7 1936.7L1947.7 1911.3L1947.7 1885.8L1956.4 1860.3L1964.0 1851.6L1983.8 1834.8L1992.5 1828.9L2021.0 1815.6L2049.6 1820.8L2067.2 1809.1ZM423.3 1870.6L451.8 1870.6L480.4 1870.6L508.9 1877.0L531.1 1885.8L537.4 1888.3L551.1 1911.3L555.9 1936.7L558.4 1962.1L561.0 1987.4L560.2 2012.7L558.8 2037.9L558.8 2063.0L558.8 2088.2L558.8 2113.2L558.8 2138.2L558.8 2163.2L558.8 2188.1L558.8 2212.9L558.8 2237.7L537.4 2237.7L508.9 2237.7L480.4 2237.7L451.8 2237.7L423.3 2237.7L394.8 2237.7L366.2 2237.7L337.7 2237.7L337.7 2212.9L337.7 2188.1L337.7 2163.2L337.7 2138.2L337.7 2113.2L337.7 2088.2L337.7 2063.0L337.7 2037.9L337.7 2012.7L337.7 1987.4L337.7 1962.1L337.7 1945.4L366.2 1945.4L380.1 1936.7L394.0 1911.3L394.8 1909.3L401.9 1885.8Z"/>
<path fill="#f6553c" stroke="#f6553c" stroke-width="0.5" fill-rule="evenodd" d="M1364.8 222.9L1393.3 222.9L1421.9 222.9L1450.4 222.9L1478.9 222.9L1507.5 222.9L1536.0 222.9L1564.5 222.9L1593.1 222.9L1621.6 222.9L1650.1 222.9L1678.7 222.9L1707.2 222.9L1735.7 222.9L1764.2 222.9L1792.8 222.9L1821.3 222.9L1849.8 222.9L1878.4 222.9L1906.9 222.9L1935.4 222.9L1964.0 222.9L1992.5 222.9L2021.0 222.9L2049.6 222.9L2078.1 222.9L2106.6 222.9L2135.1 222.9L2163.7 222.9L2155.9 250.8L2135.1 272.5L2106.6 277.2L2101.5 278.6L2101.8 306.5L2106.6 310.5L2127.0 334.3L2135.1 348.6L2140.6 362.1L2147.1 389.8L2151.5 417.5L2155.7 445.2L2157.5 472.9L2155.9 500.5L2155.3 528.1L2163.7 548.3L2178.9 555.7L2192.2 558.5L2207.8 583.2L2217.9 610.8L2220.7 614.5L2249.3 634.0L2277.8 634.0L2277.8 638.2L2277.8 665.7L2277.8 693.1L2277.8 720.5L2277.8 747.8L2277.8 775.1L2277.8 790.9L2249.3 790.9L2237.2 802.4L2226.4 829.6L2220.7 843.2L2214.1 856.8L2220.7 866.6L2237.1 884.0L2249.3 890.8L2277.8 890.8L2277.8 911.2L2277.8 938.2L2277.8 965.3L2277.8 992.3L2277.8 1000.9L2249.3 1000.9L2223.5 1019.3L2220.7 1021.5L2192.2 1042.4L2182.0 1046.3L2163.7 1050.1L2135.1 1055.5L2106.6 1066.5L2095.9 1073.2L2078.1 1089.6L2060.5 1100.0L2049.6 1105.4L2021.0 1117.8L1992.5 1125.4L1987.2 1126.8L1964.0 1135.9L1948.9 1153.6L1955.6 1180.4L1964.0 1203.7L1965.4 1207.1L1981.4 1233.7L1992.5 1252.3L1997.3 1260.4L2003.0 1286.9L2006.2 1313.5L2021.0 1334.0L2032.2 1340.0L2049.6 1347.4L2078.1 1359.7L2085.2 1366.4L2093.9 1392.8L2096.1 1419.2L2097.6 1445.5L2098.7 1471.8L2101.1 1498.0L2106.6 1518.6L2108.6 1524.2L2120.9 1550.3L2120.9 1576.4L2120.9 1602.5L2135.1 1617.8L2141.6 1628.5L2152.2 1654.4L2135.1 1674.9L2121.0 1680.3L2106.6 1683.7L2078.1 1689.9L2049.6 1687.5L2021.0 1685.1L1992.5 1680.7L1992.1 1680.3L1964.0 1657.7L1956.3 1654.4L1935.4 1640.8L1906.9 1629.2L1878.4 1634.1L1872.2 1628.5L1849.8 1612.8L1821.3 1612.7L1792.8 1623.7L1764.2 1621.8L1735.7 1619.3L1707.2 1620.0L1678.7 1622.9L1673.9 1628.5L1658.5 1654.4L1660.8 1680.3L1666.7 1706.2L1671.1 1732.0L1675.3 1757.8L1678.7 1765.7L1688.0 1783.5L1707.2 1804.0L1711.1 1809.1L1727.8 1834.8L1735.7 1851.9L1752.4 1834.8L1764.2 1823.5L1778.2 1809.1L1792.8 1794.5L1798.9 1809.1L1804.3 1834.8L1817.9 1860.3L1803.5 1885.8L1792.8 1891.5L1764.2 1894.3L1735.7 1909.0L1721.4 1911.3L1707.2 1913.0L1678.7 1917.5L1650.1 1913.0L1642.0 1911.3L1621.6 1908.4L1593.1 1902.1L1564.5 1897.5L1536.0 1894.6L1512.7 1885.8L1507.5 1882.4L1478.9 1864.6L1475.4 1860.3L1461.5 1834.8L1463.4 1809.1L1466.5 1783.5L1478.1 1757.8L1478.9 1757.0L1506.9 1732.0L1507.5 1730.8L1523.4 1706.2L1532.4 1680.3L1536.0 1665.6L1538.6 1654.4L1538.9 1628.5L1539.8 1602.5L1550.0 1576.4L1562.8 1550.3L1564.5 1547.8L1593.1 1543.6L1621.6 1540.4L1650.1 1542.1L1678.7 1547.3L1707.2 1527.8L1712.0 1524.2L1735.7 1501.5L1764.2 1513.9L1792.8 1522.7L1821.3 1502.8L1825.4 1498.0L1821.3 1478.3L1819.7 1471.8L1792.8 1452.1L1764.2 1471.1L1763.7 1471.8L1735.7 1496.5L1707.2 1476.4L1702.2 1471.8L1678.7 1450.1L1673.7 1445.5L1665.9 1419.2L1667.7 1409.1L1678.7 1419.2L1707.2 1419.2L1732.3 1396.0L1735.7 1396.6L1761.9 1395.0L1735.7 1419.2L1764.2 1445.5L1792.8 1419.2L1773.7 1401.6L1792.8 1395.0L1794.5 1392.8L1803.8 1366.4L1802.9 1340.0L1800.1 1320.2L1821.3 1340.0L1849.8 1313.5L1849.8 1286.9L1821.3 1260.4L1792.8 1286.9L1792.8 1304.6L1771.5 1286.9L1767.9 1283.5L1792.8 1260.4L1792.8 1233.7L1787.4 1228.7L1792.8 1227.6L1818.6 1207.1L1821.3 1199.0L1826.3 1180.4L1830.1 1153.6L1847.6 1126.8L1849.8 1124.8L1867.1 1100.0L1864.8 1073.2L1849.8 1047.8L1844.9 1046.3L1821.3 1037.9L1792.8 1030.1L1784.3 1019.3L1768.1 992.3L1764.2 987.0L1747.9 965.3L1735.7 953.6L1725.7 938.2L1710.1 911.2L1707.2 906.7L1679.4 884.0L1678.7 883.6L1650.1 880.8L1621.6 875.7L1602.8 856.8L1593.1 848.0L1564.5 833.7L1536.0 839.4L1507.5 848.0L1489.8 856.8L1478.9 867.7L1450.4 881.5L1421.9 881.5L1393.3 881.5L1391.3 884.0L1371.0 911.2L1364.8 926.5L1360.8 938.2L1356.6 965.3L1364.8 983.5L1368.9 992.3L1393.3 1014.5L1400.6 1019.3L1402.0 1046.3L1393.3 1052.5L1364.8 1068.6L1355.9 1073.2L1336.3 1086.4L1321.0 1100.0L1307.8 1106.8L1279.2 1116.5L1250.7 1116.3L1222.2 1115.9L1193.6 1102.8L1189.1 1100.0L1165.1 1081.6L1153.5 1073.2L1136.6 1063.9L1108.0 1052.5L1095.0 1046.3L1079.5 1035.8L1051.1 1019.3L1051.0 1019.2L1026.8 992.3L1022.4 984.3L1012.2 965.3L993.9 938.4L993.8 938.2L974.9 911.2L965.4 890.8L960.9 884.0L936.8 856.8L936.8 829.6L939.7 802.4L965.4 782.4L977.7 775.1L993.9 767.1L1013.2 747.8L1022.4 738.6L1049.2 720.5L1051.0 719.6L1079.5 713.9L1108.0 710.1L1125.4 693.1L1131.5 665.7L1136.6 653.0L1152.7 638.2L1165.1 634.0L1193.6 619.7L1211.5 610.8L1222.2 605.4L1243.7 583.2L1250.7 573.6L1265.3 555.7L1279.2 538.8L1295.3 528.1L1307.8 515.3L1325.1 500.5L1336.3 491.3L1364.8 477.0L1373.0 472.9L1364.8 463.2L1353.2 445.2L1336.3 434.2L1307.8 428.5L1279.2 424.7L1270.9 417.5L1255.9 389.8L1250.7 377.1L1240.5 362.1L1236.4 334.3L1250.7 320.0L1264.2 306.5L1279.2 296.2L1307.8 291.5L1336.3 278.6L1336.3 278.6L1336.3 250.8L1336.3 222.9ZM1735.7 417.5L1764.2 445.2L1735.7 472.9L1764.2 500.5L1792.8 472.9L1764.2 445.2L1792.8 417.5L1764.2 389.8ZM1551.5 445.2L1538.0 472.9L1540.7 500.5L1547.5 528.1L1564.5 542.6L1593.1 538.8L1621.6 534.1L1629.3 528.1L1621.6 501.4L1621.1 500.5L1593.1 477.0L1590.0 472.9L1572.7 445.2L1564.5 434.2ZM1413.7 472.9L1421.9 477.0L1450.4 491.3L1468.8 472.9L1450.4 452.4L1421.9 467.3ZM1650.1 528.1L1650.1 555.7L1650.1 583.2L1650.1 610.8L1678.7 638.2L1707.2 638.2L1707.2 665.7L1717.8 675.8L1707.2 691.3L1705.9 693.1L1707.2 693.8L1735.7 703.5L1735.7 720.5L1764.2 747.8L1792.8 747.8L1819.1 722.6L1821.3 723.2L1844.9 725.2L1821.3 747.8L1849.8 775.1L1878.4 747.8L1860.7 730.9L1878.4 731.6L1906.7 747.8L1906.9 748.0L1935.4 754.3L1964.0 759.4L1983.0 747.8L1992.1 720.5L1992.5 719.6L2017.2 693.1L2021.0 665.7L2049.6 665.7L2078.1 665.7L2078.1 665.7L2078.1 638.2L2078.1 638.2L2049.6 638.2L2021.0 638.2L1992.5 615.7L1981.9 610.8L1964.0 605.4L1935.4 588.3L1924.1 583.2L1906.9 576.9L1886.7 555.7L1878.4 550.2L1849.8 537.6L1821.3 538.0L1792.8 538.8L1764.2 541.0L1735.7 543.6L1729.0 549.2L1707.2 528.1L1678.7 500.5ZM1849.8 829.6L1821.3 856.8L1849.8 884.0L1878.4 884.0L1906.9 856.8L1878.4 829.6ZM1906.9 965.3L1906.9 992.3L1935.4 1019.3L1964.0 1019.3L1935.4 1046.3L1964.0 1073.2L1992.5 1100.0L2021.0 1073.2L1992.5 1046.3L1964.0 1019.3L1992.5 992.3L1964.0 965.3L1935.4 938.2ZM822.7 348.6L826.8 362.1L845.2 389.8L851.3 397.6L879.8 417.5L879.8 445.2L871.2 472.9L857.1 500.5L851.3 515.3L847.6 528.1L840.2 555.7L841.8 583.2L851.3 599.7L856.0 610.8L864.4 638.2L871.2 665.7L879.8 692.0L880.8 693.1L891.5 720.5L898.7 747.8L879.8 767.0L875.0 775.1L858.6 802.4L851.3 810.9L829.3 829.6L822.7 833.7L804.5 856.8L794.2 878.7L791.1 884.0L765.7 909.8L761.7 911.2L737.1 921.1L708.6 931.2L692.5 938.2L680.1 947.9L667.7 965.3L660.3 992.3L654.9 1019.3L651.5 1033.5L648.9 1046.3L635.8 1073.2L623.0 1082.9L594.5 1094.3L576.6 1073.2L565.9 1052.5L563.8 1046.3L555.9 1019.3L537.4 995.4L534.7 992.3L524.7 965.3L530.3 938.2L537.4 919.3L544.2 911.2L555.7 884.0L560.7 856.8L563.2 829.6L565.9 810.9L567.3 802.4L581.0 775.1L594.5 747.8L594.5 747.8L594.5 720.5L594.5 693.1L594.5 665.7L594.5 638.2L604.9 610.8L608.3 583.2L618.5 555.7L623.0 548.3L640.6 528.1L651.5 512.6L680.1 500.7L680.7 500.5L708.6 491.3L737.1 481.8L753.3 472.9L765.7 445.2L765.7 445.2L765.7 417.5L790.5 389.8L794.2 386.6L815.1 362.1ZM1564.5 1014.5L1568.4 1019.3L1586.2 1046.3L1590.7 1073.2L1582.6 1100.0L1564.5 1109.6L1557.5 1100.0L1551.0 1073.2L1548.4 1046.3L1557.3 1019.3ZM1364.8 1140.2L1370.2 1148.5L1364.8 1153.6L1364.8 1172.7L1353.8 1153.6ZM1367.7 1183.0L1393.3 1207.1L1421.9 1233.7L1450.4 1260.4L1478.9 1286.9L1482.5 1290.3L1478.9 1290.5L1458.6 1286.9L1450.4 1285.0L1421.9 1265.7L1413.7 1260.4L1393.3 1242.6L1387.0 1233.7L1379.8 1207.1ZM2249.3 1233.3L2277.8 1233.3L2277.8 1233.7L2277.8 1260.4L2277.8 1286.9L2277.8 1313.5L2277.8 1340.0L2277.8 1366.4L2277.8 1384.4L2249.3 1384.4L2225.9 1366.4L2220.7 1353.1L2216.6 1340.0L2212.6 1313.5L2220.1 1286.9L2220.7 1284.7L2228.8 1260.4L2248.8 1233.7ZM1726.8 1252.1L1735.7 1260.4L1755.1 1278.4L1735.7 1268.4L1725.1 1260.4ZM1222.2 1522.7L1226.5 1524.2L1250.7 1532.8L1279.2 1541.6L1290.1 1550.3L1307.0 1576.4L1287.2 1602.5L1279.3 1628.5L1279.2 1628.7L1254.1 1654.4L1250.7 1662.1L1242.9 1680.3L1229.8 1706.2L1222.2 1726.4L1217.2 1732.0L1212.5 1757.8L1209.5 1783.5L1205.9 1809.1L1204.3 1834.8L1221.5 1860.3L1222.2 1861.1L1234.8 1885.8L1234.9 1911.3L1232.7 1936.7L1222.2 1953.4L1210.1 1962.1L1193.6 1968.1L1165.1 1975.3L1136.6 1973.9L1108.0 1962.1L1108.0 1962.1L1079.5 1945.6L1074.2 1936.7L1074.2 1911.3L1074.2 1885.8L1074.2 1860.3L1074.2 1834.8L1074.2 1809.1L1074.2 1783.5L1074.2 1757.8L1079.5 1746.3L1098.5 1732.0L1108.0 1713.6L1125.6 1706.2L1136.6 1702.1L1150.8 1680.3L1162.7 1654.4L1165.1 1651.8L1186.8 1628.5L1193.6 1613.3L1197.1 1602.5L1201.5 1576.4L1214.0 1550.3L1221.5 1524.2ZM2078.1 1805.1L2106.6 1802.1L2135.1 1800.0L2163.7 1801.1L2192.2 1802.1L2220.7 1800.6L2249.3 1798.9L2277.8 1798.9L2277.8 1809.1L2277.8 1834.8L2277.8 1860.3L2277.8 1885.8L2277.8 1911.3L2277.8 1936.7L2277.8 1962.1L2277.8 1987.4L2277.8 2012.7L2277.8 2037.9L2277.8 2063.0L2277.8 2088.2L2277.8 2113.2L2277.8 2138.2L2277.8 2163.2L2277.8 2188.1L2277.8 2212.9L2277.8 2237.7L2249.3 2237.7L2220.7 2237.7L2192.2 2237.7L2163.7 2237.7L2170.6 2212.9L2168.0 2188.1L2163.7 2163.2L2163.7 2163.2L2154.2 2138.2L2135.1 2122.6L2119.6 2113.2L2106.6 2108.4L2078.1 2101.2L2049.6 2093.7L2039.5 2088.2L2021.0 2075.0L1992.5 2063.0L1992.5 2063.0L1964.0 2046.6L1949.7 2037.9L1949.7 2012.7L1954.0 1987.4L1954.0 1962.1L1955.8 1936.7L1955.8 1911.3L1955.8 1885.8L1964.0 1869.3L1974.3 1860.3L1992.5 1844.8L2006.3 1834.8L2021.0 1827.2L2049.6 1825.0L2073.6 1809.1ZM423.3 1883.3L451.8 1885.8L451.9 1885.8L480.4 1894.6L508.9 1906.2L530.7 1911.3L537.4 1912.3L547.5 1936.7L550.9 1962.1L554.8 1987.4L554.5 2012.7L551.7 2037.9L551.7 2063.0L551.7 2088.2L551.7 2113.2L551.7 2138.2L551.7 2163.2L551.7 2188.1L551.7 2212.9L551.7 2237.7L537.4 2237.7L508.9 2237.7L480.4 2237.7L451.8 2237.7L423.3 2237.7L394.8 2237.7L366.2 2237.7L337.7 2237.7L337.7 2212.9L337.7 2188.1L337.7 2163.2L337.7 2138.2L337.7 2113.2L337.7 2088.2L337.7 2063.0L337.7 2037.9L337.7 2012.7L337.7 1987.4L337.7 1969.6L366.2 1969.6L394.8 1963.0L397.5 1962.1L419.8 1936.7L416.4 1911.3L419.7 1885.8Z"/>
<path fill="#e32f27" stroke="#e32f27" stroke-width="0.5" fill-rule="evenodd" d="M1450.4 222.9L1478.9 222.9L1507.5 222.9L1507.5 222.9L1536.0 222.9L1564.5 222.9L1577.2 250.8L1589.4 278.6L1593.1 306.5L1593.1 334.3L1564.5 348.6L1551.0 362.1L1536.0 377.1L1523.3 389.8L1507.5 405.7L1478.9 416.1L1475.8 417.5L1450.4 419.9L1421.9 422.0L1393.3 424.7L1381.4 417.5L1369.4 389.8L1382.4 362.1L1393.3 348.6L1411.0 362.1L1421.9 367.6L1450.4 377.1L1473.7 362.1L1478.9 334.3L1478.9 334.3L1478.9 306.5L1478.9 306.5L1474.1 278.6L1450.4 263.0L1433.3 250.8L1421.9 222.9ZM1678.7 222.9L1707.2 222.9L1735.7 222.9L1764.2 222.9L1792.8 222.9L1821.3 222.9L1849.8 222.9L1878.4 222.9L1906.9 222.9L1935.4 222.9L1964.0 222.9L1992.5 222.9L2002.0 222.9L1997.5 250.8L1992.5 263.0L1981.7 278.6L1964.0 296.2L1956.5 306.5L1942.6 334.3L1951.1 362.1L1964.0 367.6L1992.5 362.9L1995.5 362.1L2021.0 348.6L2049.6 355.4L2078.1 362.1L2078.1 389.8L2078.1 389.8L2090.0 417.5L2106.6 434.2L2117.6 445.2L2125.0 472.9L2106.6 491.3L2097.4 500.5L2078.1 519.8L2049.6 523.2L2021.0 524.7L1992.5 524.7L1964.0 524.7L1952.2 528.1L1935.4 534.1L1906.9 538.8L1885.4 528.1L1878.4 518.2L1864.2 500.5L1875.6 472.9L1865.7 445.2L1849.8 434.2L1821.3 443.7L1818.0 445.2L1792.8 462.7L1785.3 465.6L1764.2 445.2L1792.8 417.5L1764.2 389.8L1735.7 417.5L1764.2 445.2L1735.7 472.9L1751.9 488.5L1735.7 491.3L1721.7 500.5L1707.2 514.1L1699.8 521.0L1678.7 500.5L1663.5 515.2L1659.5 500.5L1650.1 481.8L1641.5 472.9L1621.6 455.3L1615.1 445.2L1601.1 417.5L1593.1 389.8L1593.1 362.1L1621.6 348.6L1633.0 334.3L1645.8 306.5L1650.1 278.6L1650.1 278.6L1650.1 250.8L1650.1 222.9ZM1507.5 491.3L1512.1 500.5L1520.8 528.1L1536.0 554.1L1538.2 555.7L1564.5 567.7L1593.1 565.8L1621.6 563.5L1650.1 581.0L1650.1 583.2L1650.1 610.8L1678.7 638.2L1698.9 638.2L1678.7 662.5L1675.5 665.7L1651.2 693.1L1678.7 719.6L1692.3 720.5L1707.2 720.9L1735.7 721.4L1736.6 721.4L1764.2 747.8L1792.8 747.8L1808.5 732.8L1821.3 736.3L1832.3 737.3L1821.3 747.8L1849.8 775.1L1870.0 755.9L1878.4 760.7L1903.6 775.1L1906.9 776.7L1935.4 779.8L1964.0 782.4L1986.8 775.1L1992.5 772.6L2021.0 748.1L2049.6 759.5L2078.1 767.1L2106.6 764.3L2135.1 762.2L2163.7 747.8L2163.7 747.8L2163.7 720.5L2163.7 693.1L2182.7 665.7L2192.2 662.5L2206.5 665.7L2220.7 668.4L2249.3 672.5L2277.8 672.5L2277.8 693.1L2277.8 720.5L2277.8 747.8L2277.8 762.2L2249.3 762.2L2222.4 775.1L2220.7 776.7L2207.2 802.4L2194.5 829.6L2192.2 833.7L2180.1 856.8L2188.0 884.0L2192.2 890.8L2220.7 909.8L2223.8 911.2L2249.3 928.3L2277.8 928.3L2277.8 938.2L2277.8 965.3L2277.8 977.7L2249.3 977.7L2231.9 992.3L2220.7 999.3L2200.7 1019.3L2192.2 1025.6L2163.7 1037.0L2137.3 1046.3L2135.1 1046.7L2106.6 1054.5L2078.1 1071.6L2074.6 1073.2L2049.6 1086.3L2030.3 1100.0L2021.0 1104.2L1992.5 1111.5L1964.0 1119.1L1948.8 1126.8L1935.4 1145.8L1932.1 1153.6L1935.4 1176.2L1936.1 1180.4L1942.4 1207.1L1957.9 1233.7L1964.0 1242.8L1974.5 1260.4L1984.9 1286.9L1991.4 1313.5L1992.5 1315.8L2007.1 1340.0L2021.0 1351.5L2049.6 1363.7L2055.8 1366.4L2078.1 1387.5L2080.1 1392.8L2083.0 1419.2L2084.6 1445.5L2084.9 1471.8L2085.7 1498.0L2088.3 1524.2L2092.3 1550.3L2092.3 1576.4L2092.3 1602.5L2106.6 1620.0L2114.4 1628.5L2135.1 1647.1L2138.7 1654.4L2135.1 1658.6L2106.6 1670.2L2078.2 1680.3L2078.1 1680.4L2077.8 1680.3L2049.6 1677.0L2021.0 1674.1L1992.5 1664.0L1976.9 1654.4L1964.0 1648.7L1935.4 1631.7L1927.4 1628.5L1906.9 1621.6L1879.8 1628.5L1878.4 1628.7L1878.1 1628.5L1849.8 1608.6L1821.3 1608.6L1792.8 1615.1L1764.2 1612.1L1735.7 1608.2L1707.2 1602.6L1706.7 1602.5L1701.6 1576.4L1698.0 1550.3L1707.2 1546.0L1735.7 1524.4L1764.2 1534.0L1792.8 1540.4L1821.3 1528.5L1827.2 1524.2L1846.9 1498.0L1845.7 1471.8L1828.5 1445.5L1821.3 1432.2L1813.8 1419.2L1821.3 1404.5L1824.4 1392.8L1825.9 1366.4L1823.2 1340.0L1822.9 1338.5L1849.8 1313.5L1849.8 1286.9L1821.3 1260.4L1799.7 1280.5L1792.8 1274.6L1785.2 1267.4L1792.8 1260.4L1792.8 1250.4L1816.6 1233.7L1821.3 1230.1L1847.5 1207.1L1849.8 1180.4L1849.8 1180.4L1849.8 1153.6L1871.4 1126.8L1878.4 1113.4L1883.0 1100.0L1881.6 1073.2L1878.4 1062.0L1871.9 1046.3L1858.7 1019.3L1849.8 1005.0L1821.3 999.3L1792.8 995.4L1790.9 992.3L1771.6 965.3L1764.2 957.4L1744.4 938.2L1735.7 928.4L1726.4 911.2L1710.5 884.0L1707.2 880.6L1678.7 866.3L1650.1 858.4L1645.9 856.8L1621.6 833.7L1616.8 829.6L1593.1 818.3L1564.5 813.0L1536.0 815.4L1507.5 818.9L1487.1 829.6L1478.9 833.7L1450.4 848.0L1421.9 848.0L1393.3 848.0L1383.6 856.8L1364.8 881.1L1362.8 884.0L1342.4 911.2L1336.3 938.2L1336.3 938.2L1336.3 965.3L1336.3 965.3L1348.0 992.3L1364.8 1010.7L1374.4 1019.3L1373.1 1046.3L1364.8 1051.1L1336.3 1066.1L1325.3 1073.2L1307.8 1088.7L1294.7 1100.0L1279.2 1106.1L1250.7 1104.8L1222.2 1103.3L1215.4 1100.0L1193.6 1080.0L1184.3 1073.2L1165.1 1062.0L1136.6 1048.7L1129.6 1046.3L1108.0 1036.4L1081.5 1019.3L1079.5 1017.9L1051.0 1005.0L1039.6 992.3L1025.1 965.3L1022.4 957.4L1012.8 938.2L993.9 913.0L992.6 911.2L986.1 884.0L976.1 856.8L983.8 829.6L993.9 809.4L995.3 802.4L1014.3 775.1L1022.4 767.1L1051.0 748.0L1051.6 747.8L1079.5 736.7L1108.0 729.1L1121.2 720.5L1136.6 705.3L1144.9 693.1L1161.7 665.7L1165.1 662.5L1193.6 648.2L1213.6 638.2L1222.2 634.0L1242.4 610.8L1250.7 602.3L1271.5 583.2L1279.2 574.1L1307.8 557.7L1311.0 555.7L1336.3 538.8L1364.8 531.2L1373.9 528.1L1393.3 519.8L1412.8 528.1L1421.9 531.2L1450.4 538.8L1470.9 528.1L1478.9 521.4L1498.2 500.5ZM1849.8 829.6L1821.3 856.8L1849.8 884.0L1878.4 884.0L1906.9 856.8L1878.4 829.6ZM1159.9 856.8L1165.1 869.1L1174.8 856.8L1165.1 852.8ZM1906.9 965.3L1906.9 992.3L1935.4 1019.3L1964.0 1019.3L1935.4 1046.3L1964.0 1073.2L1992.5 1100.0L2021.0 1073.2L1992.5 1046.3L1964.0 1019.3L1992.5 992.3L1964.0 965.3L1935.4 938.2ZM680.1 541.2L708.6 531.2L737.1 531.2L765.7 531.2L794.2 542.6L804.6 555.7L815.9 583.2L822.7 591.2L836.3 610.8L847.7 638.2L851.3 662.5L851.8 665.7L857.4 693.1L862.8 720.5L868.3 747.8L852.2 775.1L851.3 776.7L835.8 802.4L822.7 813.9L807.0 829.6L794.2 848.0L789.6 856.8L772.3 884.0L765.7 890.8L737.1 900.3L708.6 909.8L690.0 911.2L680.1 912.4L651.5 923.7L623.0 938.2L623.0 938.2L623.0 965.3L623.0 965.3L628.1 992.3L631.6 1019.3L625.6 1046.3L623.0 1049.8L594.5 1071.6L577.0 1046.3L570.6 1019.3L565.9 995.4L564.6 992.3L556.0 965.3L565.9 957.4L583.2 938.2L591.1 911.2L585.3 884.0L583.9 856.8L589.0 829.6L594.5 807.5L597.2 802.4L618.3 775.1L623.0 767.1L632.7 747.8L650.7 720.5L651.5 719.6L664.9 693.1L663.2 665.7L661.3 638.2L653.8 610.8L651.5 605.4L639.4 583.2L651.5 559.2L654.4 555.7ZM1381.9 1196.4L1393.3 1207.1L1421.9 1233.7L1450.4 1260.4L1471.8 1280.3L1450.4 1275.1L1425.2 1260.4L1421.9 1258.4L1393.3 1233.7L1393.3 1233.7L1387.3 1207.1ZM2249.3 1252.3L2277.8 1252.3L2277.8 1260.4L2277.8 1286.9L2277.8 1313.5L2277.8 1340.0L2277.8 1366.4L2277.8 1370.9L2249.3 1370.9L2243.4 1366.4L2231.0 1340.0L2225.5 1313.5L2233.6 1286.9L2243.2 1260.4ZM1676.8 1417.5L1678.7 1419.2L1707.2 1419.2L1726.3 1401.5L1735.7 1403.0L1754.4 1401.9L1735.7 1419.2L1764.2 1445.5L1782.8 1428.4L1778.8 1445.5L1764.2 1455.9L1752.5 1471.8L1735.7 1486.6L1710.5 1471.8L1707.2 1469.8L1680.8 1445.5L1678.7 1432.4L1676.5 1419.2ZM1222.2 1540.7L1250.7 1549.6L1253.1 1550.3L1279.2 1575.7L1279.6 1576.4L1281.8 1602.5L1279.2 1610.9L1250.9 1628.5L1250.7 1628.7L1238.1 1654.4L1227.4 1680.3L1222.2 1689.9L1193.6 1680.4L1193.6 1680.3L1191.5 1654.4L1193.6 1651.8L1204.5 1628.5L1209.7 1602.5L1213.2 1576.4L1219.3 1550.3ZM1564.5 1575.7L1593.1 1575.7L1621.6 1575.7L1623.0 1576.4L1649.2 1602.5L1639.0 1628.5L1633.9 1654.4L1639.4 1680.3L1647.0 1706.2L1650.1 1725.0L1651.3 1732.0L1653.8 1757.8L1662.5 1783.5L1678.7 1798.3L1689.1 1809.1L1707.2 1833.1L1708.3 1834.8L1712.9 1860.3L1735.7 1871.7L1764.2 1867.6L1772.4 1860.3L1792.8 1835.7L1801.2 1860.3L1794.6 1885.8L1792.8 1886.8L1764.2 1888.7L1735.7 1897.4L1707.2 1904.0L1678.7 1909.3L1650.1 1905.1L1621.6 1902.4L1593.1 1897.4L1564.5 1893.8L1536.0 1890.6L1523.3 1885.8L1507.5 1875.5L1484.2 1860.3L1478.9 1849.2L1472.1 1834.8L1474.2 1809.1L1477.8 1783.5L1478.9 1780.8L1491.6 1757.8L1507.5 1743.8L1520.6 1732.0L1534.6 1706.2L1536.0 1702.1L1543.1 1680.3L1549.3 1654.4L1550.5 1628.5L1552.6 1602.5L1564.2 1576.4ZM1165.1 1714.2L1175.1 1732.0L1184.4 1757.8L1187.3 1783.5L1185.5 1809.1L1184.9 1834.8L1193.6 1855.4L1196.3 1860.3L1217.4 1885.8L1215.7 1911.3L1209.9 1936.7L1193.6 1949.0L1171.1 1962.1L1165.1 1963.8L1136.6 1963.0L1134.3 1962.1L1108.0 1952.3L1082.7 1936.7L1082.7 1911.3L1082.7 1885.8L1082.7 1860.3L1082.7 1834.8L1082.7 1809.1L1082.7 1783.5L1082.7 1757.8L1108.0 1738.1L1136.6 1732.7L1139.2 1732.0ZM2135.1 1808.1L2163.7 1809.0L2170.6 1809.1L2192.2 1809.8L2203.8 1809.1L2220.7 1808.3L2249.3 1806.8L2277.8 1806.8L2277.8 1809.1L2277.8 1834.8L2277.8 1860.3L2277.8 1885.8L2277.8 1911.3L2277.8 1936.7L2277.8 1962.1L2277.8 1987.4L2277.8 2012.7L2277.8 2037.9L2277.8 2063.0L2277.8 2088.2L2277.8 2113.2L2277.8 2138.2L2277.8 2163.2L2277.8 2188.1L2277.8 2212.9L2277.8 2237.7L2249.3 2237.7L2220.7 2237.7L2192.2 2237.7L2173.9 2237.7L2179.2 2212.9L2176.6 2188.1L2173.2 2163.2L2163.7 2138.2L2163.7 2138.2L2135.1 2114.8L2132.6 2113.2L2106.6 2103.6L2078.1 2097.5L2049.6 2089.1L2047.9 2088.2L2021.0 2069.0L2006.8 2063.0L1992.5 2054.1L1966.8 2037.9L1966.8 2012.7L1966.3 1987.4L1966.3 1962.1L1964.0 1936.7L1964.0 1911.3L1964.0 1885.8L1992.5 1860.8L1993.4 1860.3L2021.0 1839.7L2026.9 1834.8L2049.6 1829.2L2078.1 1811.3L2106.6 1809.8L2117.4 1809.1ZM537.4 1932.7L539.1 1936.7L543.4 1962.1L548.6 1987.4L548.8 2012.7L544.5 2037.9L544.5 2063.0L544.5 2088.2L544.5 2113.2L544.5 2138.2L544.5 2163.2L544.5 2188.1L544.5 2212.9L544.5 2237.7L537.4 2237.7L508.9 2237.7L480.4 2237.7L451.8 2237.7L423.3 2237.7L394.8 2237.7L366.2 2237.7L337.7 2237.7L337.7 2212.9L337.7 2188.1L337.7 2163.2L337.7 2138.2L337.7 2113.2L337.7 2088.2L337.7 2063.0L337.7 2037.9L337.7 2012.7L337.7 1993.7L366.2 1993.7L394.8 1997.1L423.3 2002.3L439.7 1987.4L451.8 1975.3L465.0 1962.1L480.4 1946.7L508.9 1936.7L508.9 1936.7Z"/>
<path fill="#c2161b" stroke="#c2161b" stroke-width="0.5" fill-rule="evenodd" d="M1792.8 222.9L1821.3 222.9L1849.8 222.9L1878.4 222.9L1906.9 222.9L1935.4 222.9L1964.0 222.9L1938.5 250.8L1935.4 253.5L1914.1 278.6L1906.9 291.5L1895.0 306.5L1882.5 334.3L1878.4 343.9L1869.5 362.1L1849.8 377.1L1821.3 377.1L1792.8 377.1L1764.2 362.9L1762.7 362.1L1747.1 334.3L1759.9 306.5L1764.2 278.6L1764.2 278.6L1764.2 250.8L1764.2 222.9ZM1964.0 412.0L1979.0 417.5L1992.5 424.7L2021.0 434.2L2034.1 445.2L2037.2 472.9L2021.0 481.8L1992.5 481.8L1964.0 481.8L1945.8 472.9L1940.6 445.2L1954.1 417.5ZM708.6 554.1L737.1 554.1L765.7 554.1L768.3 555.7L791.5 583.2L794.2 588.3L811.6 610.8L822.7 621.3L831.1 638.2L832.4 665.7L834.5 693.1L840.0 720.5L845.5 747.8L829.3 775.1L822.7 786.2L810.2 802.4L794.2 818.8L787.1 829.6L774.6 856.8L765.7 869.9L737.1 880.8L729.0 884.0L708.6 890.8L681.0 884.0L680.1 883.6L651.5 856.8L651.5 829.6L652.4 802.4L661.0 775.1L670.7 747.8L680.1 729.1L683.8 720.5L693.7 693.1L686.6 665.7L680.8 638.2L680.1 630.8L677.6 610.8L672.5 583.2L680.1 574.7L704.9 555.7ZM1336.3 576.9L1364.8 576.0L1393.3 574.7L1421.9 576.9L1450.4 578.7L1463.1 583.2L1478.9 591.2L1507.5 605.4L1525.4 610.8L1536.0 615.7L1564.5 638.2L1564.5 665.7L1562.5 693.1L1545.1 720.5L1536.1 747.8L1536.0 748.0L1510.4 775.1L1507.5 776.7L1481.1 802.4L1478.9 803.5L1450.4 818.6L1421.9 818.6L1393.3 818.6L1369.6 829.6L1364.8 833.7L1352.0 856.8L1336.3 880.6L1325.6 884.0L1307.8 890.8L1284.0 911.2L1298.2 938.2L1307.8 957.4L1310.4 965.3L1323.3 992.3L1336.3 1005.0L1349.0 1019.3L1342.9 1046.3L1336.3 1049.8L1307.8 1065.2L1299.8 1073.2L1279.2 1091.0L1250.7 1085.3L1222.2 1077.7L1217.1 1073.2L1193.6 1049.8L1182.5 1046.3L1165.1 1041.3L1136.6 1026.6L1116.3 1019.3L1108.0 1014.5L1079.5 997.2L1060.3 992.3L1051.0 989.6L1038.0 965.3L1031.9 938.2L1022.4 911.2L1022.4 884.0L1022.4 884.0L1020.2 856.8L1014.8 829.6L1014.8 802.4L1022.4 792.5L1040.1 775.1L1051.0 767.1L1079.5 758.5L1108.0 748.2L1108.9 747.8L1136.6 733.8L1150.1 720.5L1164.4 693.1L1165.1 692.0L1193.6 677.2L1215.8 665.7L1222.2 662.5L1243.1 638.2L1250.7 629.6L1267.2 610.8L1279.2 599.7L1307.8 591.2L1325.5 583.2ZM1255.7 802.4L1267.8 829.6L1279.2 833.7L1286.4 829.6L1304.0 802.4L1279.2 790.9ZM1135.7 856.8L1136.6 860.6L1143.3 884.0L1165.1 905.1L1193.6 886.7L1197.3 884.0L1220.0 856.8L1193.6 837.8L1165.1 833.7L1136.6 855.9ZM1621.6 605.4L1626.5 610.8L1645.8 638.2L1621.6 662.5L1593.1 662.5L1564.5 638.2L1593.1 616.4L1603.6 610.8ZM1735.7 739.2L1755.3 739.3L1764.2 747.8L1792.8 747.8L1797.8 743.0L1815.4 747.8L1792.8 766.7L1764.2 770.7L1742.2 775.1L1735.7 776.7L1730.5 775.1L1707.8 747.8ZM1849.8 781.4L1878.4 796.3L1896.6 802.4L1906.9 810.9L1935.4 811.6L1964.0 812.3L1992.5 806.9L2021.0 804.3L2049.6 805.8L2078.1 809.4L2086.9 802.4L2106.6 797.0L2135.1 790.9L2160.6 802.4L2155.1 829.6L2150.1 856.8L2152.8 884.0L2160.1 911.2L2163.7 915.2L2183.9 938.2L2192.2 947.9L2211.5 965.3L2195.2 992.3L2192.2 995.4L2168.4 1019.3L2163.7 1021.2L2135.1 1032.2L2106.6 1040.4L2092.8 1046.3L2078.1 1052.5L2049.6 1062.0L2033.6 1073.2L2021.0 1081.4L2003.0 1090.1L2021.0 1073.2L1992.5 1046.3L1986.3 1040.4L1989.7 1019.3L1992.5 999.3L1993.3 992.3L1992.5 989.5L1985.3 965.3L1964.0 945.3L1938.4 938.2L1935.4 935.6L1922.7 911.2L1906.9 890.8L1889.7 911.2L1884.1 938.2L1878.4 947.9L1849.8 957.4L1821.3 960.1L1792.8 962.2L1770.7 938.2L1764.2 929.3L1748.9 911.2L1743.6 884.0L1738.9 856.8L1764.2 839.4L1792.8 833.7L1816.6 829.6L1821.3 826.8L1831.4 802.4ZM1849.8 829.6L1821.3 856.8L1849.8 884.0L1878.4 884.0L1906.9 856.8L1878.4 829.6ZM1906.9 976.4L1906.9 992.3L1917.8 1002.7L1924.8 1019.3L1935.4 1038.5L1938.2 1043.6L1935.4 1046.3L1964.0 1073.2L1984.8 1092.8L1982.6 1100.0L1964.0 1104.8L1935.4 1112.0L1920.9 1126.8L1915.3 1153.6L1916.6 1180.4L1919.4 1207.1L1932.5 1233.7L1935.4 1239.0L1948.7 1260.4L1964.0 1280.8L1966.9 1286.9L1976.7 1313.5L1987.3 1340.0L1992.5 1347.4L2017.8 1366.4L2021.0 1369.0L2048.6 1392.8L2049.6 1395.0L2059.2 1419.2L2063.0 1445.5L2060.9 1471.8L2059.1 1498.0L2059.1 1524.2L2059.1 1550.3L2059.1 1576.4L2059.1 1602.5L2078.1 1622.9L2082.4 1628.5L2106.6 1653.2L2108.0 1654.4L2106.6 1655.0L2078.1 1666.1L2049.6 1663.7L2021.0 1661.5L2005.2 1654.4L1992.5 1644.2L1964.0 1636.0L1950.4 1628.5L1935.4 1622.1L1906.9 1614.0L1878.4 1615.8L1849.8 1604.5L1821.3 1604.5L1792.8 1606.5L1764.7 1602.5L1790.1 1576.4L1792.8 1575.7L1821.3 1566.2L1846.5 1550.3L1849.8 1548.7L1863.3 1524.2L1875.3 1498.0L1875.9 1471.8L1871.4 1445.5L1863.2 1419.2L1854.4 1392.8L1849.8 1376.0L1848.0 1366.4L1843.4 1340.0L1840.3 1322.3L1849.8 1313.5L1849.8 1286.9L1821.3 1260.4L1817.8 1263.6L1814.0 1260.4L1821.3 1255.5L1849.3 1233.7L1849.8 1233.3L1878.4 1214.2L1885.7 1207.1L1887.9 1180.4L1887.9 1153.6L1895.1 1126.8L1898.9 1100.0L1898.5 1073.2L1895.2 1046.3L1893.7 1019.3L1898.2 992.3ZM594.5 995.4L608.8 1019.3L602.2 1046.3L594.5 1052.5L590.1 1046.3L585.3 1019.3ZM1396.7 1210.2L1421.9 1233.7L1450.4 1260.4L1457.5 1267.0L1450.4 1265.3L1442.0 1260.4L1421.9 1248.5L1404.8 1233.7ZM2249.3 1281.1L2277.8 1281.1L2277.8 1286.9L2277.8 1313.5L2277.8 1340.0L2277.8 1347.4L2249.3 1347.4L2245.5 1340.0L2238.3 1313.5L2247.1 1286.9ZM1735.7 1409.5L1746.9 1408.8L1735.7 1419.2L1759.2 1440.9L1759.9 1445.5L1741.3 1471.8L1735.7 1476.7L1727.3 1471.8L1707.2 1460.1L1691.3 1445.5L1686.3 1419.2L1707.2 1419.2L1720.3 1407.1ZM1564.5 1608.4L1581.5 1628.5L1591.2 1654.4L1593.1 1656.2L1613.4 1680.3L1621.6 1689.9L1627.2 1706.2L1631.5 1732.0L1632.3 1757.8L1637.5 1783.5L1650.1 1800.0L1660.1 1809.1L1678.7 1822.0L1688.8 1834.8L1678.7 1860.3L1678.7 1860.3L1678.7 1860.3L1707.2 1871.7L1735.7 1885.8L1707.2 1894.9L1678.7 1899.1L1650.1 1897.4L1621.6 1896.5L1593.1 1892.8L1564.5 1890.2L1536.0 1886.6L1533.9 1885.8L1507.5 1868.6L1494.8 1860.3L1482.6 1834.8L1484.9 1809.1L1489.0 1783.5L1506.0 1757.8L1507.5 1756.5L1534.7 1732.0L1536.0 1729.5L1545.8 1706.2L1553.8 1680.3L1559.9 1654.4L1562.1 1628.5ZM1108.0 1750.4L1131.8 1757.8L1136.6 1762.8L1165.1 1783.5L1165.1 1809.1L1165.1 1809.1L1165.5 1834.8L1171.2 1860.3L1181.7 1885.8L1182.0 1911.3L1180.0 1936.7L1165.1 1946.1L1136.6 1945.7L1108.0 1942.6L1098.5 1936.7L1098.5 1911.3L1098.5 1885.8L1098.5 1860.3L1098.5 1834.8L1098.5 1809.1L1098.5 1783.5L1098.5 1757.8ZM2049.6 1833.4L2078.1 1819.1L2106.6 1818.1L2135.1 1816.9L2163.7 1817.5L2192.2 1818.1L2220.7 1816.6L2249.3 1815.1L2277.8 1815.1L2277.8 1834.8L2277.8 1860.3L2277.8 1885.8L2277.8 1911.3L2277.8 1936.7L2277.8 1962.1L2277.8 1987.4L2277.8 2012.7L2277.8 2037.9L2277.8 2063.0L2277.8 2088.2L2277.8 2113.2L2277.8 2138.2L2277.8 2163.2L2277.8 2188.1L2277.8 2212.9L2277.8 2237.7L2249.3 2237.7L2220.7 2237.7L2192.2 2237.7L2184.1 2237.7L2187.9 2212.9L2185.3 2188.1L2182.7 2163.2L2175.1 2138.2L2163.7 2125.7L2147.8 2113.2L2138.3 2088.2L2135.1 2086.8L2133.6 2088.2L2106.6 2098.8L2078.1 2093.8L2059.5 2088.2L2049.6 2080.4L2021.0 2063.0L2021.0 2063.0L1992.5 2045.1L1981.1 2037.9L1981.1 2012.7L1978.2 1987.4L1978.2 1962.1L1975.4 1936.7L1975.4 1911.3L1975.4 1885.8L1992.5 1870.8L2012.5 1860.3L2021.0 1854.0L2043.8 1834.8ZM508.9 1962.1L537.4 1967.2L542.4 1987.4L543.1 2012.7L537.4 2037.9L537.4 2037.9L537.4 2063.0L537.4 2088.2L537.4 2113.2L537.4 2138.2L537.4 2163.2L537.4 2188.1L537.4 2212.9L537.4 2237.7L508.9 2237.7L480.4 2237.7L451.8 2237.7L423.3 2237.7L394.8 2237.7L366.2 2237.7L337.7 2237.7L337.7 2212.9L337.7 2188.1L337.7 2163.2L337.7 2138.2L337.7 2113.2L337.7 2088.2L337.7 2063.0L337.7 2037.9L337.7 2018.3L366.2 2023.0L394.8 2031.5L423.3 2037.9L394.8 2045.1L366.2 2063.0L366.2 2063.0L366.2 2088.2L366.2 2088.2L394.8 2096.1L408.1 2088.2L423.3 2072.7L430.4 2063.0L423.3 2037.9L451.8 2029.5L464.5 2012.7L480.4 1996.6L486.7 1987.4Z"/>
<path fill="#9d0d14" stroke="#9d0d14" stroke-width="0.5" fill-rule="evenodd" d="M708.6 581.7L737.1 581.7L765.7 581.7L767.0 583.2L776.2 610.8L794.2 637.8L794.6 638.2L797.0 665.7L799.5 693.1L808.1 720.5L822.5 747.8L794.2 771.6L791.9 775.1L780.7 802.4L767.1 829.6L765.7 833.7L740.7 856.8L737.1 858.1L708.6 869.0L689.1 856.8L686.9 829.6L686.1 802.4L696.7 775.1L708.6 748.0L708.8 747.8L723.3 720.5L731.9 693.1L713.4 665.7L708.6 662.5L700.3 638.2L701.5 610.8L706.7 583.2ZM1279.2 625.3L1307.8 621.9L1336.3 616.0L1364.8 615.9L1393.3 615.7L1421.9 624.2L1450.4 635.9L1454.4 638.2L1470.8 665.7L1478.4 693.1L1469.0 720.5L1450.7 747.8L1450.4 748.1L1421.9 748.1L1393.3 748.1L1364.8 748.0L1336.3 747.8L1336.3 720.5L1336.3 693.1L1336.3 693.1L1336.3 693.1L1336.3 720.5L1336.3 747.8L1307.8 759.3L1279.2 762.2L1250.7 772.5L1244.6 775.1L1222.2 786.2L1195.2 802.4L1193.6 803.3L1165.1 812.7L1137.8 829.6L1136.6 830.6L1111.5 856.8L1113.7 884.0L1128.1 911.2L1136.6 929.7L1145.9 938.2L1165.1 947.9L1179.5 938.2L1193.6 927.5L1207.0 911.2L1222.2 900.3L1235.5 911.2L1250.6 938.2L1250.7 938.4L1279.2 957.4L1284.6 965.3L1293.9 992.3L1307.8 1019.2L1307.8 1019.3L1307.8 1019.4L1294.1 1046.3L1279.2 1062.0L1261.5 1046.3L1250.7 1030.8L1241.2 1019.3L1222.2 1005.0L1193.6 1005.0L1165.1 1005.0L1145.3 992.3L1136.6 983.5L1108.0 970.4L1079.5 966.9L1051.0 965.3L1051.0 938.2L1059.2 911.2L1079.5 890.8L1086.3 884.0L1091.8 856.8L1079.5 852.8L1051.0 843.2L1041.5 829.6L1034.3 802.4L1051.0 786.2L1079.5 779.3L1094.3 775.1L1108.0 771.0L1136.6 767.2L1165.1 748.4L1165.4 747.8L1192.7 720.5L1193.6 719.6L1220.1 693.1L1222.2 692.0L1250.7 691.0L1267.8 665.7L1267.8 638.2ZM2021.0 843.2L2043.6 856.8L2049.6 861.4L2078.1 880.9L2085.2 884.0L2106.6 900.3L2112.9 911.2L2135.0 938.2L2135.1 938.4L2163.7 965.0L2163.9 965.3L2163.7 966.3L2157.3 992.3L2135.1 1014.5L2120.7 1019.3L2106.6 1021.6L2078.1 1028.9L2049.6 1027.2L2021.0 1019.3L2021.0 992.3L2021.0 992.3L2012.9 965.3L1992.5 942.5L1988.0 938.2L1966.8 911.2L1978.8 884.0L1992.5 863.6L1998.5 856.8ZM1792.8 870.4L1804.4 884.0L1821.3 902.6L1833.5 911.2L1821.3 918.7L1792.8 930.8L1779.6 911.2L1784.9 884.0ZM1413.5 1225.9L1421.9 1233.7L1436.1 1247.1L1421.9 1238.7L1416.2 1233.7ZM1906.9 1233.3L1907.1 1233.7L1920.4 1260.4L1935.4 1284.6L1937.0 1286.9L1958.7 1313.5L1964.0 1325.0L1967.6 1340.0L1979.8 1366.4L1992.5 1384.7L2004.5 1392.8L2021.0 1404.5L2028.8 1419.2L2032.8 1445.5L2026.5 1471.8L2021.0 1498.0L2021.0 1498.0L2021.0 1524.2L2021.0 1550.3L2021.0 1576.4L2021.0 1602.5L1992.5 1620.8L1964.0 1622.9L1935.4 1612.2L1906.9 1606.3L1878.8 1602.5L1884.0 1576.4L1887.5 1550.3L1896.9 1524.2L1904.9 1498.0L1906.9 1471.8L1906.9 1471.8L1906.9 1445.5L1906.9 1445.5L1898.4 1419.2L1885.2 1392.8L1878.4 1373.7L1876.0 1366.4L1869.4 1340.0L1863.7 1313.5L1860.7 1286.9L1855.3 1260.4L1878.4 1252.3L1906.4 1233.7ZM1735.7 1416.0L1739.5 1415.7L1735.7 1419.2L1743.6 1426.4L1746.5 1445.5L1735.7 1461.7L1707.2 1450.4L1701.9 1445.5L1695.8 1419.2L1707.2 1419.2L1714.3 1412.6ZM1564.5 1680.4L1592.3 1706.2L1593.1 1707.6L1604.0 1732.0L1606.1 1757.8L1610.5 1783.5L1621.6 1804.0L1624.8 1809.1L1649.5 1834.8L1650.1 1835.1L1662.8 1860.3L1678.7 1880.0L1707.2 1885.8L1678.7 1888.9L1650.1 1889.7L1621.6 1890.6L1593.1 1888.2L1564.5 1886.6L1558.8 1885.8L1536.0 1875.6L1507.5 1861.7L1505.4 1860.3L1493.2 1834.8L1495.7 1809.1L1500.3 1783.5L1507.5 1772.8L1530.3 1757.8L1536.0 1752.7L1548.8 1732.0L1556.9 1706.2ZM2078.1 1826.9L2106.6 1826.3L2135.1 1825.7L2163.7 1826.0L2192.2 1826.3L2220.7 1825.0L2249.3 1823.7L2277.8 1823.7L2277.8 1834.8L2277.8 1860.3L2277.8 1885.8L2277.8 1911.3L2277.8 1936.7L2277.8 1962.1L2277.8 1987.4L2277.8 2012.7L2277.8 2037.9L2277.8 2063.0L2277.8 2088.2L2277.8 2113.2L2277.8 2138.2L2277.8 2163.2L2277.8 2188.1L2277.8 2212.9L2277.8 2237.7L2249.3 2237.7L2220.7 2237.7L2196.0 2237.7L2200.6 2212.9L2196.0 2188.1L2192.2 2163.2L2192.2 2163.2L2186.5 2138.2L2163.7 2113.2L2163.7 2113.2L2163.2 2088.2L2135.1 2076.4L2121.3 2088.2L2106.6 2093.9L2078.1 2090.0L2071.9 2088.2L2049.6 2070.8L2036.9 2063.0L2021.0 2049.1L1998.2 2037.9L1998.2 2012.7L1992.5 2000.0L1990.1 1987.4L1990.1 1962.1L1986.8 1936.7L1986.8 1911.3L1986.8 1885.8L1992.5 1880.8L2021.0 1867.6L2038.6 1860.3L2049.6 1851.6L2060.8 1834.8ZM508.9 1987.4L537.4 2012.7L524.4 2037.9L524.4 2063.0L524.4 2088.2L524.4 2113.2L524.4 2138.2L524.4 2163.2L524.4 2188.1L524.4 2212.9L524.4 2237.7L508.9 2237.7L480.4 2237.7L451.8 2237.7L423.3 2237.7L394.8 2237.7L366.2 2237.7L337.7 2237.7L337.7 2212.9L337.7 2188.1L337.7 2163.2L337.7 2138.2L337.7 2113.2L337.7 2093.2L366.2 2103.8L394.8 2107.5L423.3 2093.2L428.0 2088.2L444.7 2063.0L451.8 2053.4L469.4 2037.9L480.4 2025.3L494.6 2012.7ZM345.9 2037.9L337.7 2063.0L337.7 2037.9L337.7 2034.6Z"/>
<path fill="#67000d" stroke="#67000d" stroke-width="0.5" fill-rule="evenodd" d="M1079.5 800.0L1108.0 793.8L1131.9 802.4L1108.0 822.2L1079.5 808.6L1066.9 802.4ZM2021.0 890.8L2049.6 907.9L2056.6 911.2L2078.1 926.5L2086.2 938.2L2106.6 962.2L2111.1 965.3L2106.6 972.0L2087.5 992.3L2078.1 995.4L2073.8 992.3L2057.4 965.3L2049.6 947.9L2021.0 938.4L2020.9 938.2L2006.8 911.2ZM1906.9 1290.3L1921.8 1313.5L1922.8 1340.0L1914.0 1366.4L1906.9 1372.2L1904.5 1366.4L1897.9 1340.0L1894.4 1313.5ZM1715.3 1419.2L1707.2 1426.7L1705.3 1419.2L1707.2 1419.2L1708.4 1418.1ZM1964.0 1547.2L1965.5 1550.3L1975.6 1576.4L1982.6 1602.5L1964.0 1609.1L1935.9 1602.5L1944.6 1576.4L1961.0 1550.3ZM1564.5 1725.0L1568.7 1732.0L1575.2 1757.8L1579.9 1783.5L1584.8 1809.1L1589.0 1834.8L1593.1 1837.8L1621.6 1848.0L1642.0 1860.3L1621.6 1878.6L1593.1 1873.1L1564.5 1870.1L1536.0 1862.9L1530.3 1860.3L1507.5 1842.5L1503.8 1834.8L1506.5 1809.1L1507.5 1804.0L1531.4 1783.5L1536.0 1781.4L1555.8 1757.8L1562.8 1732.0ZM2078.1 1834.6L2106.6 1834.6L2135.1 1834.6L2163.7 1834.6L2192.2 1834.6L2220.7 1833.5L2249.3 1832.3L2277.8 1832.3L2277.8 1834.8L2277.8 1860.3L2277.8 1885.8L2277.8 1911.3L2249.3 1911.3L2249.3 1911.3L2249.3 1936.7L2249.3 1936.7L2277.8 1936.7L2277.8 1962.1L2277.8 1987.4L2277.8 2012.7L2277.8 2037.9L2277.8 2063.0L2277.8 2088.2L2277.8 2113.2L2277.8 2138.2L2277.8 2163.2L2277.8 2188.1L2277.8 2212.9L2277.8 2237.7L2249.3 2237.7L2220.7 2237.7L2215.0 2237.7L2217.4 2212.9L2215.0 2188.1L2214.2 2163.2L2206.5 2138.2L2192.2 2120.4L2187.5 2113.2L2188.1 2088.2L2163.7 2070.1L2135.1 2066.1L2107.2 2063.0L2106.6 2062.6L2106.2 2063.0L2106.6 2063.8L2109.1 2088.2L2106.6 2089.1L2098.5 2088.2L2078.1 2075.6L2057.7 2063.0L2049.6 2056.8L2028.2 2037.9L2028.2 2012.7L2021.0 2002.6L2013.2 1987.4L2013.2 1962.1L2008.3 1936.7L2008.3 1911.3L2008.3 1885.8L2021.0 1880.6L2049.6 1872.7L2070.4 1860.3L2077.8 1834.8ZM508.9 2030.7L511.5 2037.9L511.5 2063.0L511.5 2088.2L511.5 2113.2L511.5 2138.2L511.5 2163.2L511.5 2188.1L511.5 2212.9L511.5 2237.7L508.9 2237.7L480.4 2237.7L451.8 2237.7L423.3 2237.7L394.8 2237.7L366.2 2237.7L337.7 2237.7L337.7 2212.9L337.7 2188.1L337.7 2163.2L337.7 2138.2L337.7 2125.7L366.2 2129.9L394.8 2128.8L423.3 2118.8L429.6 2113.2L451.8 2088.2L451.8 2088.2L480.4 2063.0L480.4 2063.0L500.7 2037.9Z"/>
</g>
<path d="M1370.7 1133.2L1377.4 1138.3L1388.5 1146.0L1400.6 1152.4L1413.8 1149.4L1428.9 1159.5L1445.1 1170.6L1461.3 1181.7L1477.4 1194.9L1489.6 1200.9L1500.7 1204.0L1507.7 1210.0L1513.8 1218.1L1521.9 1224.2L1525.9 1230.3L1526.9 1237.3L1531.0 1242.4L1546.1 1252.5L1554.2 1261.2L1565.3 1265.6L1571.4 1271.7L1579.5 1275.7L1587.6 1281.8L1598.7 1286.8L1612.8 1295.9L1629.0 1306.0L1647.2 1319.2L1663.4 1332.3L1673.5 1340.4L1687.6 1348.5L1700.8 1356.2L1704.8 1366.7L1708.2 1376.4L1704.8 1382.8L1696.7 1386.9L1687.6 1388.5L1680.5 1389.9L1671.4 1384.5L1661.3 1378.8L1652.2 1374.8L1645.2 1375.8L1641.1 1371.7L1639.1 1368.7L1629.0 1365.1L1618.9 1360.6L1610.8 1355.6L1606.8 1348.5L1603.7 1342.4L1596.7 1339.4L1586.6 1336.4L1572.4 1330.3L1563.3 1322.2L1550.2 1316.5L1538.1 1310.1L1525.9 1303.0L1514.8 1299.0L1505.7 1292.9L1493.6 1282.8L1479.5 1270.7L1469.3 1265.6L1461.3 1256.5L1450.1 1244.4L1439.0 1233.3L1426.9 1222.2L1414.8 1213.1L1405.7 1202.0L1399.6 1190.8L1390.5 1179.7L1382.4 1170.6L1380.4 1163.6L1381.4 1157.5L1377.4 1153.5L1370.3 1149.4L1367.3 1143.3L1368.3 1136.3ZM1658.3 1164.2L1664.4 1165.0L1670.0 1169.2L1664.4 1172.7L1663.0 1177.7L1664.4 1184.8L1661.3 1191.9L1655.3 1197.3L1648.2 1199.9L1647.2 1198.3L1652.9 1190.8L1655.3 1185.8L1655.7 1178.7L1657.3 1171.6L1658.9 1167.6ZM1711.0 1200.0L1718.7 1196.6L1728.9 1194.0L1735.7 1196.6L1739.9 1200.8L1741.3 1207.6L1740.8 1217.8L1747.6 1224.6L1752.7 1233.1L1756.6 1239.1L1756.1 1245.0L1753.2 1251.5L1745.9 1252.4L1741.6 1248.5L1735.7 1243.3L1728.9 1241.3L1721.2 1239.1L1715.3 1234.0L1711.0 1227.2L1709.3 1222.9L1717.8 1220.4L1722.1 1215.3L1726.3 1209.8L1721.2 1206.8L1713.6 1205.6L1710.5 1204.6ZM1798.6 1276.5L1813.9 1272.3L1819.6 1269.7L1820.7 1277.4L1824.1 1280.8L1830.9 1282.8L1837.8 1282.1L1836.9 1293.5L1835.2 1302.9L1827.5 1304.9L1820.7 1306.6L1815.6 1305.9L1811.4 1302.0L1805.4 1298.6L1805.4 1292.7L1802.9 1286.7L1800.3 1280.8ZM1757.0 1407.5L1763.8 1410.0L1768.0 1412.6L1769.4 1416.8L1765.8 1421.9L1760.4 1421.6L1755.3 1418.5L1753.6 1415.1L1754.9 1410.0ZM1750.3 409.3L1752.4 404.5L1756.5 401.5L1761.2 399.5L1765.3 402.9L1769.4 407.2L1770.7 412.7L1770.1 418.8L1766.7 420.5L1763.3 421.5L1761.0 424.6L1757.8 424.2L1755.1 419.5L1752.4 414.0ZM1752.4 458.2L1755.8 452.8L1763.9 448.7L1769.4 450.7L1775.5 454.1L1774.1 463.0L1769.4 469.8L1763.9 469.1L1757.1 467.8L1751.7 466.0ZM1718.7 617.3L1732.7 620.2L1733.5 625.4L1729.8 634.2L1716.5 625.4ZM1728.3 647.5L1735.7 646.5L1745.3 651.2L1749.0 660.0L1754.1 671.8L1762.2 674.8L1763.7 679.9L1779.9 691.0L1784.3 691.0L1790.2 697.6L1795.4 700.5L1797.6 706.4L1802.7 712.3L1793.2 721.2L1776.2 719.7L1766.6 727.8L1757.1 725.6L1754.8 717.5L1751.2 708.7L1749.0 691.0L1746.0 680.6L1742.3 675.5L1732.0 679.9L1727.6 677.0L1722.7 670.3L1725.4 658.5ZM1782.1 598.9L1800.5 581.9L1820.4 579.0L1821.2 580.4L1811.6 597.4L1802.7 603.3L1788.7 602.8ZM1832.2 545.8L1835.9 545.1L1837.4 548.0L1842.5 568.6L1843.3 583.4L1840.3 593.2L1834.4 583.4L1833.0 564.2L1831.5 549.5ZM1837.4 600.3L1840.3 600.3L1843.3 608.4L1848.4 632.0L1852.1 648.2L1850.6 657.1L1843.3 659.3L1838.9 645.3L1833.7 624.6L1835.9 611.4ZM1811.6 687.3L1818.2 683.6L1827.8 680.6L1838.9 669.6L1844.0 674.8L1848.4 686.5L1855.1 693.9L1855.8 699.1L1841.8 702.0L1831.5 700.5L1821.2 697.6L1814.5 692.4ZM1835.2 734.4L1843.3 728.5L1847.0 733.0L1852.1 738.1L1862.4 747.0L1875.7 750.7L1873.5 757.3L1857.3 752.1L1844.8 754.3L1838.9 751.4L1835.9 744.0ZM1656.4 505.9L1661.5 505.2L1663.6 508.3L1667.1 514.9L1672.2 521.0L1678.4 527.1L1680.4 536.3L1682.4 549.6L1685.5 564.9L1693.2 564.7L1696.7 562.7L1700.8 555.5L1702.7 548.6L1704.1 540.4L1708.5 537.9L1712.0 538.2L1716.1 539.7L1713.3 544.5L1715.1 554.7L1719.2 560.8L1722.6 562.3L1725.3 577.1L1728.9 594.5L1730.6 599.6L1730.4 603.2L1717.1 614.1L1699.8 614.1L1686.5 620.8L1678.2 620.2L1678.2 612.9L1671.2 606.7L1663.6 594.0L1665.4 571.0L1658.0 547.6L1651.3 529.2L1651.6 520.0L1653.9 511.8ZM1932.0 970.8L1936.5 961.9L1944.5 959.5L1951.0 961.3L1956.4 971.8L1965.3 976.7L1959.4 980.3L1969.3 988.7L1973.3 996.6L1967.3 1003.5L1960.4 1001.5L1945.5 994.6L1932.0 988.7L1933.2 982.7ZM1962.3 1042.2L1968.3 1039.2L1973.3 1041.2L1976.2 1055.1L1992.1 1066.0L1984.2 1078.9L1975.2 1076.9L1965.3 1069.0L1958.4 1057.1ZM2018.9 1135.5L2026.8 1133.1L2032.8 1133.9L2038.1 1138.8L2033.8 1145.4L2025.8 1146.4L2019.9 1142.4L2017.5 1138.5ZM1837.5 855.8L1843.0 846.2L1854.0 837.9L1870.5 836.5L1878.8 846.2L1888.4 854.4L1881.5 866.8L1866.4 869.0L1849.9 866.8L1848.5 861.3L1852.6 858.5L1844.4 855.2ZM898.9 1023.2L901.5 1017.3L903.7 1016.2L905.5 1028.2L903.7 1037.0L900.4 1043.0L898.9 1041.4Z" fill="#d3d3d3" stroke="#000" stroke-width="2.1" stroke-linejoin="round"/>
<line x1="908.3" y1="2259.3" x2="908.3" y2="205.5" stroke="#808080" stroke-opacity="0.5" stroke-width="3.1" stroke-dasharray="12.3 5.3"/>
<line x1="1478.9" y1="2259.3" x2="1478.9" y2="205.5" stroke="#808080" stroke-opacity="0.5" stroke-width="3.1" stroke-dasharray="12.3 5.3"/>
<line x1="2049.6" y1="2259.3" x2="2049.6" y2="205.5" stroke="#808080" stroke-opacity="0.5" stroke-width="3.1" stroke-dasharray="12.3 5.3"/>
<line x1="337.7" y1="547.9" x2="2277.8" y2="547.9" stroke="#808080" stroke-opacity="0.5" stroke-width="3.1" stroke-dasharray="12.3 5.3"/>
<line x1="337.7" y1="1118.5" x2="2277.8" y2="1118.5" stroke="#808080" stroke-opacity="0.5" stroke-width="3.1" stroke-dasharray="12.3 5.3"/>
<line x1="337.7" y1="1689.1" x2="2277.8" y2="1689.1" stroke="#808080" stroke-opacity="0.5" stroke-width="3.1" stroke-dasharray="12.3 5.3"/>
</g>
<rect x="337.7" y="205.5" width="1940.1" height="2053.8" fill="none" stroke="#000" stroke-width="3.33"/>
<text x="1299.2" y="70.4" font-size="50" text-anchor="middle">Risque de survenue (en pourcentage %) d'une vague de chaleur marine d'intensité Moderate ou plus</text>
<text x="1307.8" y="126" font-size="50" text-anchor="middle">le 2026-03-25 - Nouvelle-Calédonie</text>
<text x="908.3" y="2314.4" font-size="41.67" text-anchor="middle">160°E</text>
<text x="1478.9" y="2314.4" font-size="41.67" text-anchor="middle">165°E</text>
<text x="2049.6" y="2314.4" font-size="41.67" text-anchor="middle">170°E</text>
<text x="317" y="561.3" font-size="41.67" text-anchor="end">15°S</text>
<text x="317" y="1131.9" font-size="41.67" text-anchor="end">20°S</text>
<text x="317" y="1702.5" font-size="41.67" text-anchor="end">25°S</text>
<rect x="2452.3" y="1889.67" width="83.0" height="164.93" fill="#fff5f0"/>
<rect x="2452.3" y="1725.34" width="83.0" height="164.93" fill="#fee3d6"/>
<rect x="2452.3" y="1561.01" width="83.0" height="164.93" fill="#fcc4ad"/>
<rect x="2452.3" y="1396.68" width="83.0" height="164.93" fill="#fca082"/>
<rect x="2452.3" y="1232.35" width="83.0" height="164.93" fill="#fb7c5c"/>
<rect x="2452.3" y="1068.02" width="83.0" height="164.93" fill="#f6553c"/>
<rect x="2452.3" y="903.69" width="83.0" height="164.93" fill="#e32f27"/>
<rect x="2452.3" y="739.36" width="83.0" height="164.93" fill="#c2161b"/>
<rect x="2452.3" y="575.03" width="83.0" height="164.93" fill="#9d0d14"/>
<rect x="2452.3" y="410.70" width="83.0" height="164.93" fill="#67000d"/>
<rect x="2452.3" y="411.0" width="83.0" height="1643.3" fill="none" stroke="#000" stroke-width="3.33"/>
<line x1="2535.3" y1="2054.30" x2="2550.7" y2="2054.30" stroke="#000" stroke-width="3.33"/>
<text x="2564" y="2071.60" font-size="41.67">0%</text>
<line x1="2535.3" y1="1889.97" x2="2550.7" y2="1889.97" stroke="#000" stroke-width="3.33"/>
<text x="2564" y="1907.27" font-size="41.67">10%</text>
<line x1="2535.3" y1="1725.64" x2="2550.7" y2="1725.64" stroke="#000" stroke-width="3.33"/>
<text x="2564" y="1742.94" font-size="41.67">20%</text>
<line x1="2535.3" y1="1561.31" x2="2550.7" y2="1561.31" stroke="#000" stroke-width="3.33"/>
<text x="2564" y="1578.61" font-size="41.67">30%</text>
<line x1="2535.3" y1="1396.98" x2="2550.7" y2="1396.98" stroke="#000" stroke-width="3.33"/>
<text x="2564" y="1414.28" font-size="41.67">40%</text>
<line x1="2535.3" y1="1232.65" x2="2550.7" y2="1232.65" stroke="#000" stroke-width="3.33"/>
<text x="2564" y="1249.95" font-size="41.67">50%</text>
<line x1="2535.3" y1="1068.32" x2="2550.7" y2="1068.32" stroke="#000" stroke-width="3.33"/>
<text x="2564" y="1085.62" font-size="41.67">60%</text>
<line x1="2535.3" y1="903.99" x2="2550.7" y2="903.99" stroke="#000" stroke-width="3.33"/>
<text x="2564" y="921.29" font-size="41.67">70%</text>
<line x1="2535.3" y1="739.66" x2="2550.7" y2="739.66" stroke="#000" stroke-width="3.33"/>
<text x="2564" y="756.96" font-size="41.67">80%</text>
<line x1="2535.3" y1="575.33" x2="2550.7" y2="575.33" stroke="#000" stroke-width="3.33"/>
<text x="2564" y="592.63" font-size="41.67">90%</text>
<line x1="2535.3" y1="411.00" x2="2550.7" y2="411.00" stroke="#000" stroke-width="3.33"/>
<text x="2564" y="428.30" font-size="41.67">100%</text>
<text transform="translate(2731,1233) rotate(-90)" font-size="41.67" text-anchor="middle">Pourcentage (%)</text>
</svg></body></html>
